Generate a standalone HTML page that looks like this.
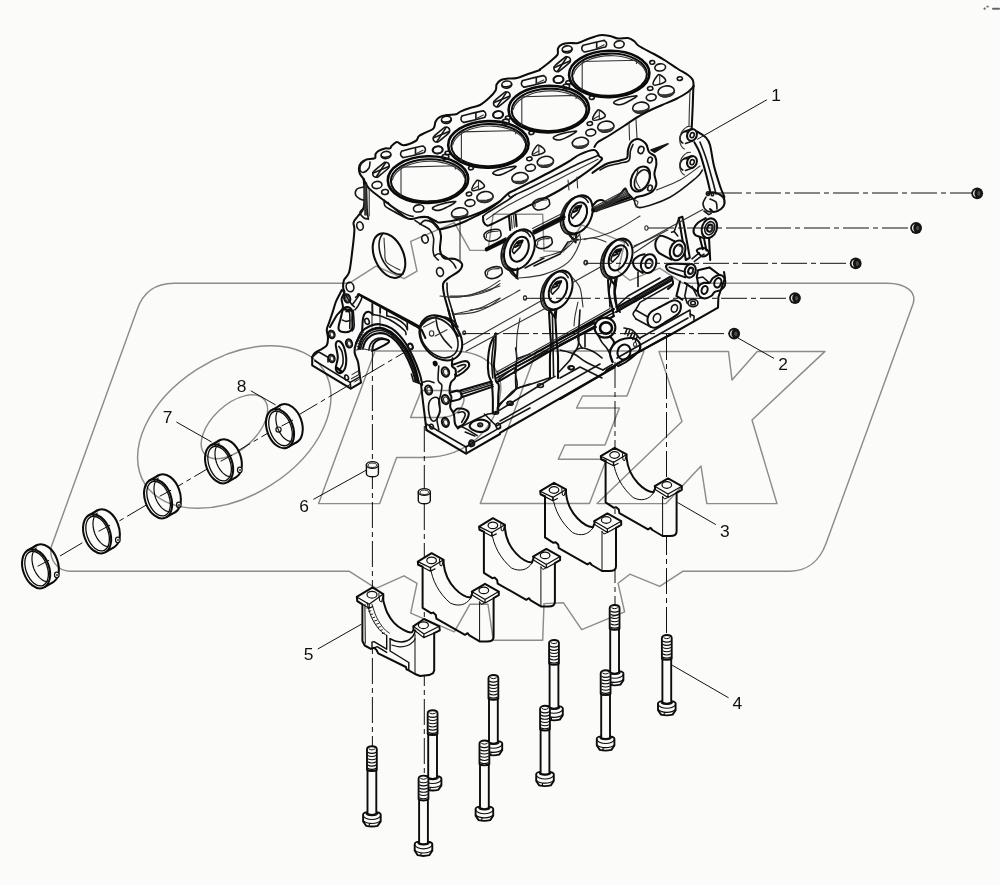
<!DOCTYPE html>
<html><head><meta charset="utf-8"><title>Cylinder block</title>
<style>html,body{margin:0;padding:0;background:#fbfcfa;}svg{display:block}</style></head>
<body>
<svg width="1000" height="885" viewBox="0 0 1000 885">
<rect width="1000" height="885" fill="#fbfcfa"/>
<g id="block" stroke-linecap="round" stroke-linejoin="round">
<ellipse cx="428" cy="179.6" rx="40.2" ry="23.3" fill="none" stroke="#0a0a0a" stroke-width="2.6" transform="rotate(-1.5 428 179.6)"/>
<ellipse cx="428.3" cy="180.3" rx="37.4" ry="21.1" fill="none" stroke="#0d0d0d" stroke-width="2.05" transform="rotate(-1.5 428.3 180.3)"/>
<path d="M392.4 179.9 C392.7 179.2 393.4 176.9 394.3 175.5 C395.2 174.1 396.4 172.7 397.8 171.4 C399.2 170.1 400.9 168.9 402.8 167.8 C404.7 166.7 406.8 165.7 409.1 164.8 C411.3 164 413.8 163.3 416.3 162.7 C418.8 162.2 421.4 161.8 424.1 161.5 C426.7 161.3 429.4 161.2 432.1 161.3 C434.7 161.4 437.4 161.7 439.9 162.1 C442.5 162.5 444.9 163.1 447.2 163.8 C449.5 164.6 451.7 165.4 453.6 166.4 C455.6 167.4 457.3 168.6 458.8 169.8 C460.3 171 461.6 172.3 462.6 173.7 C463.5 175.1 464.3 177.3 464.7 178" fill="none" stroke="#333" stroke-width="1.1"/>
<path d="M401 167.1 L401 196.1" fill="none" stroke="#333" stroke-width="1.1"/>
<path d="M401 167.1 L456 165.8 L455.2 169.1" fill="none" stroke="#333" stroke-width="1.1"/>
<ellipse cx="386" cy="155" rx="5" ry="3.6" fill="none" stroke="#151515" stroke-width="1.6" transform="rotate(-8 386 155)"/>
<path d="M390.6 154.8 C390.6 154.8 390.6 155 390.5 155.2 C390.4 155.3 390.3 155.5 390.2 155.6 C390 155.7 389.9 155.9 389.7 156 C389.5 156.1 389.2 156.3 389 156.4 C388.7 156.5 388.4 156.6 388.2 156.7 C387.9 156.8 387.5 156.9 387.2 157 C386.9 157 386.6 157.1 386.3 157.1 C385.9 157.2 385.6 157.2 385.3 157.2 C385 157.3 384.6 157.3 384.3 157.2 C384 157.2 383.7 157.2 383.4 157.2 C383.2 157.1 382.9 157.1 382.7 157 C382.5 156.9 382.3 156.8 382.1 156.7 C381.9 156.6 381.8 156.5 381.7 156.4 C381.5 156.3 381.5 156.1 381.4 156.1" fill="none" stroke="#151515" stroke-width="1.6"/>
<path d="M383.6 163.1 C385.4 161.7 384.6 162.5 385.2 162.4 C385.8 162.3 386.5 162.3 387 162.5 C387.6 162.7 388.1 163.1 388.5 163.6 C388.9 164 389.1 164.6 389.2 165.2 C389.3 165.8 389.3 166.5 389.1 167 C388.9 167.6 389.8 166.9 388 168.5 C386.3 170.1 380.3 175 378.4 176.5 C376.6 177.9 377.4 177.1 376.8 177.2 C376.2 177.3 375.5 177.3 375 177.1 C374.4 176.9 373.9 176.5 373.5 176 C373.1 175.6 372.9 175 372.8 174.4 C372.7 173.8 372.7 173.1 372.9 172.6 C373.1 172 372.2 172.7 374 171.1 C375.7 169.5 381.7 164.6 383.6 163.1Z" fill="none" stroke="#151515" stroke-width="1.6"/>
<path d="M376.4 176.8 L385.6 162.8" fill="none" stroke="#151515" stroke-width="1.6"/>
<path d="M373.3 173 L388.7 166.6" fill="none" stroke="#151515" stroke-width="1.6"/>
<ellipse cx="377" cy="185" rx="5" ry="3.6" fill="none" stroke="#151515" stroke-width="1.6" transform="rotate(-8 377 185)"/>
<ellipse cx="385" cy="192" rx="3.4" ry="2.5" fill="none" stroke="#151515" stroke-width="1.6" transform="rotate(-8 385 192)"/>
<path d="M421.2 146.3 C424.5 145.6 422.4 146.2 423 146.3 C423.5 146.5 424.1 146.8 424.5 147.2 C424.8 147.7 425.2 148.2 425.3 148.8 C425.4 149.3 425.4 150 425.3 150.6 C425.1 151.1 424.8 151.7 424.4 152.1 C423.9 152.4 426.1 152 422.8 152.9 C419.6 153.8 408.1 156.6 404.8 157.3 C401.5 158 403.6 157.4 403 157.3 C402.5 157.1 401.9 156.8 401.5 156.4 C401.2 155.9 400.8 155.4 400.7 154.8 C400.6 154.3 400.6 153.6 400.7 153 C400.9 152.5 401.2 151.9 401.6 151.5 C402.1 151.2 399.9 151.6 403.2 150.7 C406.4 149.8 417.9 147 421.2 146.3Z" fill="none" stroke="#151515" stroke-width="1.6"/>
<path d="M415.5 148.1 L415.5 154.4" fill="none" stroke="#151515" stroke-width="1.6"/>
<path d="M415.5 154 L423 150.3" fill="none" stroke="#333" stroke-width="1.1"/>
<ellipse cx="438" cy="150" rx="5" ry="3.6" fill="none" stroke="#151515" stroke-width="1.6" transform="rotate(-8 438 150)"/>
<ellipse cx="447.5" cy="153" rx="2.5" ry="1.8" fill="none" stroke="#151515" stroke-width="1.6" transform="rotate(-8 447.5 153)"/>
<ellipse cx="471" cy="168" rx="2.5" ry="1.8" fill="none" stroke="#151515" stroke-width="1.6" transform="rotate(-8 471 168)"/>
<path d="M433 207.4 C434.3 206.1 435.2 205.8 440 204.4 C444.8 203 450.1 202 453.5 201.6 C456.9 201.2 455.8 201.6 454.5 202.8 C453.2 204 451.4 204.9 448 206.6 C444.6 208.3 443.1 209.4 440 210.1 C436.9 210.8 436.1 210.4 434.5 209.8 C432.9 209.2 431.7 208.7 433 207.4Z" fill="none" stroke="#151515" stroke-width="1.6"/>
<path d="M472 190.1 C471.3 188.6 474.1 184 475.5 182.1 C476.9 180.2 477.2 179.8 479 180.6 C480.8 181.4 484.5 184.3 484.5 186.1 C484.5 187.9 481.5 188.8 479 189.6 C476.5 190.4 472.7 191.6 472 190.1Z" fill="none" stroke="#151515" stroke-width="1.6"/>
<path d="M478.5 181.1 L478.5 189.1" fill="none" stroke="#333" stroke-width="1.1"/>
<path d="M473 189.1 L478.5 186.1" fill="none" stroke="#333" stroke-width="1.1"/>
<ellipse cx="469" cy="194" rx="2.7" ry="1.9" fill="none" stroke="#151515" stroke-width="1.6" transform="rotate(-8 469 194)"/>
<ellipse cx="485" cy="197" rx="8.2" ry="5.4" fill="none" stroke="#151515" stroke-width="1.6" transform="rotate(-8 485 197)"/>
<path d="M493.1 196.6 L493 197.5 L492.6 198.3 L492.1 199.2 L491.3 199.9 L490.4 200.6 L489.4 201.2 L488.3 201.7 L487 202.1 L485.8 202.3 L484.5 202.5 L483.2 202.4 L481.9 202.3 L480.8 202 L479.7 201.6 L478.8 201 L478 200.4 L477.5 199.7 L477.1 198.9 L477.4 199 L477.7 199.4 L478.2 199.7 L478.9 200 L479.8 200.2 L480.7 200.3 L481.8 200.4 L483 200.4 L484.2 200.3 L485.5 200.2 L486.7 200 L487.9 199.7 L489 199.4 L490 199 L490.9 198.6 L491.7 198.2 L492.2 197.7 L492.6 197.3 L492.8 196.8Z" fill="#3a3a3a" stroke="#333" stroke-width="1.1"/>
<ellipse cx="470" cy="203" rx="5" ry="3.4" fill="none" stroke="#151515" stroke-width="1.6" transform="rotate(-8 470 203)"/>
<ellipse cx="459.6" cy="213.2" rx="8.2" ry="5.4" fill="none" stroke="#151515" stroke-width="1.6" transform="rotate(-8 459.6 213.2)"/>
<path d="M467.7 212.8 L467.6 213.7 L467.2 214.5 L466.7 215.4 L465.9 216.1 L465 216.8 L464 217.4 L462.9 217.9 L461.6 218.3 L460.4 218.5 L459.1 218.7 L457.8 218.6 L456.5 218.5 L455.4 218.2 L454.3 217.8 L453.4 217.2 L452.6 216.6 L452.1 215.9 L451.7 215.1 L452 215.2 L452.3 215.6 L452.8 215.9 L453.5 216.2 L454.4 216.4 L455.3 216.5 L456.4 216.6 L457.6 216.6 L458.8 216.5 L460.1 216.4 L461.3 216.2 L462.5 215.9 L463.6 215.6 L464.6 215.2 L465.5 214.8 L466.3 214.4 L466.8 213.9 L467.2 213.5 L467.4 213Z" fill="#3a3a3a" stroke="#333" stroke-width="1.1"/>
<ellipse cx="488.4" cy="144.4" rx="40.2" ry="23.3" fill="none" stroke="#0a0a0a" stroke-width="2.6" transform="rotate(-1.5 488.4 144.4)"/>
<ellipse cx="488.7" cy="145.1" rx="37.4" ry="21.1" fill="none" stroke="#0d0d0d" stroke-width="2.05" transform="rotate(-1.5 488.7 145.1)"/>
<path d="M452.8 144.7 C453.1 144 453.8 141.7 454.7 140.3 C455.6 138.9 456.8 137.5 458.2 136.2 C459.6 134.9 461.3 133.7 463.2 132.6 C465.1 131.5 467.2 130.5 469.5 129.6 C471.7 128.8 474.2 128.1 476.7 127.5 C479.2 127 481.8 126.6 484.5 126.3 C487.1 126.1 489.8 126 492.5 126.1 C495.1 126.2 497.8 126.5 500.3 126.9 C502.9 127.3 505.3 127.9 507.6 128.6 C509.9 129.4 512.1 130.2 514 131.2 C516 132.2 517.7 133.4 519.2 134.6 C520.7 135.8 522 137.1 523 138.5 C523.9 139.9 524.7 142.1 525.1 142.8" fill="none" stroke="#333" stroke-width="1.1"/>
<path d="M461.4 131.9 L461.4 160.9" fill="none" stroke="#333" stroke-width="1.1"/>
<path d="M461.4 131.9 L516.4 130.6 L515.6 133.9" fill="none" stroke="#333" stroke-width="1.1"/>
<ellipse cx="446.4" cy="119.8" rx="5" ry="3.6" fill="none" stroke="#151515" stroke-width="1.6" transform="rotate(-8 446.4 119.8)"/>
<path d="M451 119.6 C451 119.6 451 119.8 450.9 120 C450.8 120.1 450.7 120.3 450.6 120.4 C450.4 120.5 450.3 120.7 450.1 120.8 C449.9 120.9 449.6 121.1 449.4 121.2 C449.1 121.3 448.8 121.4 448.6 121.5 C448.3 121.6 447.9 121.7 447.6 121.8 C447.3 121.8 447 121.9 446.7 121.9 C446.3 122 446 122 445.7 122 C445.4 122.1 445 122.1 444.7 122 C444.4 122 444.1 122 443.8 122 C443.6 121.9 443.3 121.9 443.1 121.8 C442.9 121.7 442.7 121.6 442.5 121.5 C442.3 121.4 442.2 121.3 442.1 121.2 C441.9 121.1 441.9 120.9 441.8 120.9" fill="none" stroke="#151515" stroke-width="1.6"/>
<path d="M444 127.9 C445.8 126.5 445 127.3 445.6 127.2 C446.2 127.1 446.9 127.1 447.4 127.3 C448 127.5 448.5 127.9 448.9 128.4 C449.3 128.8 449.5 129.4 449.6 130 C449.7 130.6 449.7 131.3 449.5 131.8 C449.3 132.4 450.2 131.7 448.4 133.3 C446.7 134.9 440.7 139.8 438.8 141.3 C437 142.7 437.8 141.9 437.2 142 C436.6 142.1 435.9 142.1 435.4 141.9 C434.8 141.7 434.3 141.3 433.9 140.8 C433.5 140.4 433.3 139.8 433.2 139.2 C433.1 138.6 433.1 137.9 433.3 137.4 C433.5 136.8 432.6 137.5 434.4 135.9 C436.1 134.3 442.1 129.4 444 127.9Z" fill="none" stroke="#151515" stroke-width="1.6"/>
<path d="M436.8 141.6 L446 127.6" fill="none" stroke="#151515" stroke-width="1.6"/>
<path d="M433.7 137.8 L449.1 131.4" fill="none" stroke="#151515" stroke-width="1.6"/>
<ellipse cx="437.4" cy="149.8" rx="5" ry="3.6" fill="none" stroke="#151515" stroke-width="1.6" transform="rotate(-8 437.4 149.8)"/>
<ellipse cx="445.4" cy="156.8" rx="3.4" ry="2.5" fill="none" stroke="#151515" stroke-width="1.6" transform="rotate(-8 445.4 156.8)"/>
<path d="M481.6 111.1 C484.9 110.4 482.8 111 483.4 111.1 C483.9 111.3 484.5 111.6 484.9 112 C485.2 112.5 485.6 113 485.7 113.6 C485.8 114.1 485.8 114.8 485.7 115.4 C485.5 115.9 485.2 116.5 484.8 116.9 C484.3 117.2 486.5 116.8 483.2 117.7 C480 118.6 468.5 121.4 465.2 122.1 C461.9 122.8 464 122.2 463.4 122.1 C462.9 121.9 462.3 121.6 461.9 121.2 C461.6 120.7 461.2 120.2 461.1 119.6 C461 119.1 461 118.4 461.1 117.8 C461.3 117.3 461.6 116.7 462 116.3 C462.5 116 460.3 116.4 463.6 115.5 C466.8 114.6 478.3 111.8 481.6 111.1Z" fill="none" stroke="#151515" stroke-width="1.6"/>
<path d="M475.9 112.9 L475.9 119.2" fill="none" stroke="#151515" stroke-width="1.6"/>
<path d="M475.9 118.8 L483.4 115.1" fill="none" stroke="#333" stroke-width="1.1"/>
<ellipse cx="498.4" cy="114.8" rx="5" ry="3.6" fill="none" stroke="#151515" stroke-width="1.6" transform="rotate(-8 498.4 114.8)"/>
<ellipse cx="507.9" cy="117.8" rx="2.5" ry="1.8" fill="none" stroke="#151515" stroke-width="1.6" transform="rotate(-8 507.9 117.8)"/>
<ellipse cx="531.4" cy="132.8" rx="2.5" ry="1.8" fill="none" stroke="#151515" stroke-width="1.6" transform="rotate(-8 531.4 132.8)"/>
<path d="M493.4 172.2 C494.7 170.9 495.6 170.6 500.4 169.2 C505.2 167.8 510.5 166.8 513.9 166.4 C517.3 166 516.2 166.4 514.9 167.6 C513.6 168.8 511.8 169.7 508.4 171.4 C505 173.1 503.5 174.2 500.4 174.9 C497.2 175.6 496.5 175.2 494.9 174.6 C493.3 174 492.1 173.5 493.4 172.2Z" fill="none" stroke="#151515" stroke-width="1.6"/>
<path d="M532.4 154.9 C531.7 153.4 534.5 148.8 535.9 146.9 C537.3 145 537.6 144.6 539.4 145.4 C541.2 146.2 544.9 149.1 544.9 150.9 C544.9 152.7 541.9 153.6 539.4 154.4 C536.9 155.2 533.1 156.4 532.4 154.9Z" fill="none" stroke="#151515" stroke-width="1.6"/>
<path d="M538.9 145.9 L538.9 153.9" fill="none" stroke="#333" stroke-width="1.1"/>
<path d="M533.4 153.9 L538.9 150.9" fill="none" stroke="#333" stroke-width="1.1"/>
<ellipse cx="529.4" cy="158.8" rx="2.7" ry="1.9" fill="none" stroke="#151515" stroke-width="1.6" transform="rotate(-8 529.4 158.8)"/>
<ellipse cx="545.4" cy="161.8" rx="8.2" ry="5.4" fill="none" stroke="#151515" stroke-width="1.6" transform="rotate(-8 545.4 161.8)"/>
<path d="M553.5 161.4 L553.4 162.3 L553 163.1 L552.5 164 L551.7 164.7 L550.8 165.4 L549.8 166 L548.7 166.5 L547.4 166.9 L546.2 167.1 L544.9 167.3 L543.6 167.2 L542.3 167.1 L541.2 166.8 L540.1 166.4 L539.2 165.8 L538.4 165.2 L537.9 164.5 L537.5 163.7 L537.8 163.8 L538.1 164.2 L538.6 164.5 L539.3 164.8 L540.2 165 L541.1 165.1 L542.2 165.2 L543.4 165.2 L544.6 165.1 L545.9 165 L547.1 164.8 L548.3 164.5 L549.4 164.2 L550.4 163.8 L551.3 163.4 L552.1 163 L552.6 162.5 L553 162.1 L553.2 161.6Z" fill="#3a3a3a" stroke="#333" stroke-width="1.1"/>
<ellipse cx="530.4" cy="167.8" rx="5" ry="3.4" fill="none" stroke="#151515" stroke-width="1.6" transform="rotate(-8 530.4 167.8)"/>
<ellipse cx="520" cy="178" rx="8.2" ry="5.4" fill="none" stroke="#151515" stroke-width="1.6" transform="rotate(-8 520 178)"/>
<path d="M528.1 177.6 L528 178.5 L527.6 179.3 L527.1 180.2 L526.3 180.9 L525.4 181.6 L524.4 182.2 L523.3 182.7 L522 183.1 L520.8 183.3 L519.5 183.5 L518.2 183.4 L516.9 183.3 L515.8 183 L514.7 182.6 L513.8 182 L513 181.4 L512.5 180.7 L512.1 179.9 L512.4 180 L512.7 180.4 L513.2 180.7 L513.9 181 L514.8 181.2 L515.7 181.3 L516.8 181.4 L518 181.4 L519.2 181.3 L520.5 181.2 L521.7 181 L522.9 180.7 L524 180.4 L525 180 L525.9 179.6 L526.7 179.2 L527.2 178.7 L527.6 178.3 L527.8 177.8Z" fill="#3a3a3a" stroke="#333" stroke-width="1.1"/>
<ellipse cx="548.8" cy="109.2" rx="40.2" ry="23.3" fill="none" stroke="#0a0a0a" stroke-width="2.6" transform="rotate(-1.5 548.8 109.2)"/>
<ellipse cx="549.1" cy="109.9" rx="37.4" ry="21.1" fill="none" stroke="#0d0d0d" stroke-width="2.05" transform="rotate(-1.5 549.1 109.9)"/>
<path d="M513.2 109.5 C513.5 108.8 514.2 106.5 515.1 105.1 C516 103.7 517.2 102.3 518.6 101 C520 99.7 521.7 98.5 523.6 97.4 C525.5 96.3 527.6 95.3 529.9 94.4 C532.1 93.6 534.6 92.9 537.1 92.3 C539.6 91.8 542.2 91.4 544.9 91.1 C547.5 90.9 550.2 90.8 552.9 90.9 C555.5 91 558.2 91.3 560.7 91.7 C563.3 92.1 565.7 92.7 568 93.4 C570.3 94.2 572.5 95 574.4 96 C576.4 97 578.1 98.2 579.6 99.4 C581.1 100.6 582.4 101.9 583.4 103.3 C584.3 104.7 585.1 106.9 585.5 107.6" fill="none" stroke="#333" stroke-width="1.1"/>
<path d="M521.8 96.7 L521.8 125.7" fill="none" stroke="#333" stroke-width="1.1"/>
<path d="M521.8 96.7 L576.8 95.4 L576 98.7" fill="none" stroke="#333" stroke-width="1.1"/>
<ellipse cx="506.8" cy="84.6" rx="5" ry="3.6" fill="none" stroke="#151515" stroke-width="1.6" transform="rotate(-8 506.8 84.6)"/>
<path d="M511.4 84.4 C511.4 84.4 511.4 84.6 511.3 84.8 C511.2 84.9 511.1 85.1 511 85.2 C510.8 85.3 510.7 85.5 510.5 85.6 C510.3 85.7 510 85.9 509.8 86 C509.5 86.1 509.2 86.2 509 86.3 C508.7 86.4 508.3 86.5 508 86.6 C507.7 86.6 507.4 86.7 507.1 86.7 C506.7 86.8 506.4 86.8 506.1 86.8 C505.8 86.9 505.4 86.9 505.1 86.8 C504.8 86.8 504.5 86.8 504.2 86.8 C504 86.7 503.7 86.7 503.5 86.6 C503.3 86.5 503.1 86.4 502.9 86.3 C502.7 86.2 502.6 86.1 502.5 86 C502.3 85.9 502.3 85.7 502.2 85.7" fill="none" stroke="#151515" stroke-width="1.6"/>
<path d="M504.4 92.7 C506.2 91.3 505.4 92.1 506 92 C506.6 91.9 507.3 91.9 507.8 92.1 C508.4 92.3 508.9 92.7 509.3 93.2 C509.7 93.6 509.9 94.2 510 94.8 C510.1 95.4 510.1 96.1 509.9 96.6 C509.7 97.2 510.6 96.5 508.8 98.1 C507.1 99.7 501.1 104.6 499.2 106.1 C497.4 107.5 498.2 106.7 497.6 106.8 C497 106.9 496.3 106.9 495.8 106.7 C495.2 106.5 494.7 106.1 494.3 105.6 C493.9 105.2 493.7 104.6 493.6 104 C493.5 103.4 493.5 102.7 493.7 102.2 C493.9 101.6 493 102.3 494.8 100.7 C496.5 99.1 502.5 94.2 504.4 92.7Z" fill="none" stroke="#151515" stroke-width="1.6"/>
<path d="M497.2 106.4 L506.4 92.4" fill="none" stroke="#151515" stroke-width="1.6"/>
<path d="M494.1 102.6 L509.5 96.2" fill="none" stroke="#151515" stroke-width="1.6"/>
<ellipse cx="497.8" cy="114.6" rx="5" ry="3.6" fill="none" stroke="#151515" stroke-width="1.6" transform="rotate(-8 497.8 114.6)"/>
<ellipse cx="505.8" cy="121.6" rx="3.4" ry="2.5" fill="none" stroke="#151515" stroke-width="1.6" transform="rotate(-8 505.8 121.6)"/>
<path d="M542 75.9 C545.3 75.2 543.2 75.8 543.8 75.9 C544.3 76.1 544.9 76.4 545.3 76.8 C545.6 77.3 546 77.8 546.1 78.4 C546.2 78.9 546.2 79.6 546.1 80.2 C545.9 80.7 545.6 81.3 545.2 81.7 C544.7 82 546.9 81.6 543.6 82.5 C540.4 83.4 528.9 86.2 525.6 86.9 C522.3 87.6 524.4 87 523.8 86.9 C523.3 86.7 522.7 86.4 522.3 86 C522 85.5 521.6 85 521.5 84.4 C521.4 83.9 521.4 83.2 521.5 82.6 C521.7 82.1 522 81.5 522.4 81.1 C522.9 80.8 520.7 81.2 524 80.3 C527.2 79.4 538.7 76.6 542 75.9Z" fill="none" stroke="#151515" stroke-width="1.6"/>
<path d="M536.3 77.7 L536.3 84" fill="none" stroke="#151515" stroke-width="1.6"/>
<path d="M536.3 83.6 L543.8 79.9" fill="none" stroke="#333" stroke-width="1.1"/>
<ellipse cx="558.8" cy="79.6" rx="5" ry="3.6" fill="none" stroke="#151515" stroke-width="1.6" transform="rotate(-8 558.8 79.6)"/>
<ellipse cx="568.3" cy="82.6" rx="2.5" ry="1.8" fill="none" stroke="#151515" stroke-width="1.6" transform="rotate(-8 568.3 82.6)"/>
<ellipse cx="591.8" cy="97.6" rx="2.5" ry="1.8" fill="none" stroke="#151515" stroke-width="1.6" transform="rotate(-8 591.8 97.6)"/>
<path d="M553.8 137 C555.1 135.7 556 135.4 560.8 134 C565.6 132.6 570.9 131.6 574.3 131.2 C577.7 130.8 576.6 131.2 575.3 132.4 C574 133.6 572.2 134.5 568.8 136.2 C565.4 137.9 563.9 139 560.8 139.7 C557.6 140.4 556.9 140 555.3 139.4 C553.7 138.8 552.5 138.3 553.8 137Z" fill="none" stroke="#151515" stroke-width="1.6"/>
<path d="M592.8 119.7 C592.1 118.2 594.9 113.6 596.3 111.7 C597.7 109.8 598 109.4 599.8 110.2 C601.6 111 605.3 113.9 605.3 115.7 C605.3 117.5 602.3 118.4 599.8 119.2 C597.3 120 593.5 121.2 592.8 119.7Z" fill="none" stroke="#151515" stroke-width="1.6"/>
<path d="M599.3 110.7 L599.3 118.7" fill="none" stroke="#333" stroke-width="1.1"/>
<path d="M593.8 118.7 L599.3 115.7" fill="none" stroke="#333" stroke-width="1.1"/>
<ellipse cx="589.8" cy="123.6" rx="2.7" ry="1.9" fill="none" stroke="#151515" stroke-width="1.6" transform="rotate(-8 589.8 123.6)"/>
<ellipse cx="605.8" cy="126.6" rx="8.2" ry="5.4" fill="none" stroke="#151515" stroke-width="1.6" transform="rotate(-8 605.8 126.6)"/>
<path d="M613.9 126.2 L613.8 127.1 L613.4 127.9 L612.9 128.8 L612.1 129.5 L611.2 130.2 L610.2 130.8 L609.1 131.3 L607.8 131.7 L606.6 131.9 L605.3 132.1 L604 132 L602.7 131.9 L601.6 131.6 L600.5 131.2 L599.6 130.6 L598.8 130 L598.3 129.3 L597.9 128.5 L598.2 128.6 L598.5 129 L599 129.3 L599.7 129.6 L600.6 129.8 L601.5 129.9 L602.6 130 L603.8 130 L605 129.9 L606.3 129.8 L607.5 129.6 L608.7 129.3 L609.8 129 L610.8 128.6 L611.7 128.2 L612.5 127.8 L613 127.3 L613.4 126.9 L613.6 126.4Z" fill="#3a3a3a" stroke="#333" stroke-width="1.1"/>
<ellipse cx="590.8" cy="132.6" rx="5" ry="3.4" fill="none" stroke="#151515" stroke-width="1.6" transform="rotate(-8 590.8 132.6)"/>
<ellipse cx="580.4" cy="142.8" rx="8.2" ry="5.4" fill="none" stroke="#151515" stroke-width="1.6" transform="rotate(-8 580.4 142.8)"/>
<path d="M588.5 142.4 L588.4 143.3 L588 144.1 L587.5 145 L586.7 145.7 L585.8 146.4 L584.8 147 L583.7 147.5 L582.4 147.9 L581.2 148.1 L579.9 148.3 L578.6 148.2 L577.3 148.1 L576.2 147.8 L575.1 147.4 L574.2 146.8 L573.4 146.2 L572.9 145.5 L572.5 144.7 L572.8 144.8 L573.1 145.2 L573.6 145.5 L574.3 145.8 L575.2 146 L576.1 146.1 L577.2 146.2 L578.4 146.2 L579.6 146.1 L580.9 146 L582.1 145.8 L583.3 145.5 L584.4 145.2 L585.4 144.8 L586.3 144.4 L587.1 144 L587.6 143.5 L588 143.1 L588.2 142.6Z" fill="#3a3a3a" stroke="#333" stroke-width="1.1"/>
<ellipse cx="609.2" cy="74" rx="40.2" ry="23.3" fill="none" stroke="#0a0a0a" stroke-width="2.6" transform="rotate(-1.5 609.2 74)"/>
<ellipse cx="609.5" cy="74.7" rx="37.4" ry="21.1" fill="none" stroke="#0d0d0d" stroke-width="2.05" transform="rotate(-1.5 609.5 74.7)"/>
<path d="M573.6 74.3 C573.9 73.6 574.6 71.3 575.5 69.9 C576.4 68.5 577.6 67.1 579 65.8 C580.4 64.5 582.1 63.3 584 62.2 C585.9 61.1 588 60.1 590.3 59.2 C592.5 58.4 595 57.7 597.5 57.1 C600 56.6 602.6 56.2 605.3 55.9 C607.9 55.7 610.6 55.6 613.3 55.7 C615.9 55.8 618.6 56.1 621.1 56.5 C623.7 56.9 626.1 57.5 628.4 58.2 C630.7 59 632.9 59.8 634.8 60.8 C636.8 61.8 638.5 63 640 64.2 C641.5 65.4 642.8 66.7 643.8 68.1 C644.7 69.5 645.5 71.7 645.9 72.4" fill="none" stroke="#333" stroke-width="1.1"/>
<path d="M582.2 61.5 L582.2 90.5" fill="none" stroke="#333" stroke-width="1.1"/>
<path d="M582.2 61.5 L637.2 60.2 L636.4 63.5" fill="none" stroke="#333" stroke-width="1.1"/>
<ellipse cx="567.2" cy="49.4" rx="5" ry="3.6" fill="none" stroke="#151515" stroke-width="1.6" transform="rotate(-8 567.2 49.4)"/>
<path d="M571.8 49.2 C571.8 49.2 571.8 49.4 571.7 49.6 C571.6 49.7 571.5 49.9 571.4 50 C571.2 50.1 571.1 50.3 570.9 50.4 C570.7 50.5 570.4 50.7 570.2 50.8 C569.9 50.9 569.6 51 569.4 51.1 C569.1 51.2 568.7 51.3 568.4 51.4 C568.1 51.4 567.8 51.5 567.5 51.5 C567.1 51.6 566.8 51.6 566.5 51.6 C566.2 51.7 565.8 51.7 565.5 51.6 C565.2 51.6 564.9 51.6 564.6 51.6 C564.4 51.5 564.1 51.5 563.9 51.4 C563.7 51.3 563.5 51.2 563.3 51.1 C563.1 51 563 50.9 562.9 50.8 C562.7 50.7 562.7 50.5 562.6 50.5" fill="none" stroke="#151515" stroke-width="1.6"/>
<path d="M564.8 57.5 C566.6 56.1 565.8 56.9 566.4 56.8 C567 56.7 567.7 56.7 568.2 56.9 C568.8 57.1 569.3 57.5 569.7 58 C570.1 58.4 570.3 59 570.4 59.6 C570.5 60.2 570.5 60.9 570.3 61.4 C570.1 62 571 61.3 569.2 62.9 C567.5 64.5 561.5 69.4 559.6 70.9 C557.8 72.3 558.6 71.5 558 71.6 C557.4 71.7 556.7 71.7 556.2 71.5 C555.6 71.3 555.1 70.9 554.7 70.4 C554.3 70 554.1 69.4 554 68.8 C553.9 68.2 553.9 67.5 554.1 67 C554.3 66.4 553.4 67.1 555.2 65.5 C556.9 63.9 562.9 59 564.8 57.5Z" fill="none" stroke="#151515" stroke-width="1.6"/>
<path d="M557.6 71.2 L566.8 57.2" fill="none" stroke="#151515" stroke-width="1.6"/>
<path d="M554.5 67.4 L569.9 61" fill="none" stroke="#151515" stroke-width="1.6"/>
<ellipse cx="558.2" cy="79.4" rx="5" ry="3.6" fill="none" stroke="#151515" stroke-width="1.6" transform="rotate(-8 558.2 79.4)"/>
<ellipse cx="566.2" cy="86.4" rx="3.4" ry="2.5" fill="none" stroke="#151515" stroke-width="1.6" transform="rotate(-8 566.2 86.4)"/>
<path d="M602.4 40.7 C605.7 40 603.6 40.6 604.2 40.7 C604.7 40.9 605.3 41.2 605.7 41.6 C606 42.1 606.4 42.6 606.5 43.2 C606.6 43.7 606.6 44.4 606.5 45 C606.3 45.5 606 46.1 605.6 46.5 C605.1 46.8 607.3 46.4 604 47.3 C600.8 48.2 589.3 51 586 51.7 C582.7 52.4 584.8 51.8 584.2 51.7 C583.7 51.5 583.1 51.2 582.7 50.8 C582.4 50.3 582 49.8 581.9 49.2 C581.8 48.7 581.8 48 581.9 47.4 C582.1 46.9 582.4 46.3 582.8 45.9 C583.3 45.6 581.1 46 584.4 45.1 C587.6 44.2 599.1 41.4 602.4 40.7Z" fill="none" stroke="#151515" stroke-width="1.6"/>
<path d="M596.7 42.5 L596.7 48.8" fill="none" stroke="#151515" stroke-width="1.6"/>
<path d="M596.7 48.4 L604.2 44.7" fill="none" stroke="#333" stroke-width="1.1"/>
<ellipse cx="619.2" cy="44.4" rx="5" ry="3.6" fill="none" stroke="#151515" stroke-width="1.6" transform="rotate(-8 619.2 44.4)"/>
<ellipse cx="652.2" cy="62.4" rx="2.5" ry="1.8" fill="none" stroke="#151515" stroke-width="1.6" transform="rotate(-8 652.2 62.4)"/>
<ellipse cx="660.2" cy="67.4" rx="5.4" ry="3.6" fill="none" stroke="#151515" stroke-width="1.6" transform="rotate(-8 660.2 67.4)"/>
<path d="M653.2 84.5 C652.5 83 655.3 78.4 656.7 76.5 C658.1 74.6 658.4 74.2 660.2 75 C662 75.8 665.7 78.7 665.7 80.5 C665.7 82.3 662.7 83.2 660.2 84 C657.7 84.8 653.9 86 653.2 84.5Z" fill="none" stroke="#151515" stroke-width="1.6"/>
<path d="M659.7 75.5 L659.7 83.5" fill="none" stroke="#333" stroke-width="1.1"/>
<ellipse cx="650.2" cy="88.4" rx="2.7" ry="1.9" fill="none" stroke="#151515" stroke-width="1.6" transform="rotate(-8 650.2 88.4)"/>
<ellipse cx="666.2" cy="91.4" rx="8.2" ry="5.4" fill="none" stroke="#151515" stroke-width="1.6" transform="rotate(-8 666.2 91.4)"/>
<path d="M674.3 91 L674.2 91.9 L673.8 92.7 L673.3 93.6 L672.5 94.3 L671.6 95 L670.6 95.6 L669.5 96.1 L668.2 96.5 L667 96.7 L665.7 96.9 L664.4 96.8 L663.1 96.7 L662 96.4 L660.9 96 L660 95.4 L659.2 94.8 L658.7 94.1 L658.3 93.3 L658.6 93.4 L658.9 93.8 L659.4 94.1 L660.1 94.4 L661 94.6 L661.9 94.7 L663 94.8 L664.2 94.8 L665.4 94.7 L666.7 94.6 L667.9 94.4 L669.1 94.1 L670.2 93.8 L671.2 93.4 L672.1 93 L672.9 92.6 L673.4 92.1 L673.8 91.7 L674 91.2Z" fill="#3a3a3a" stroke="#333" stroke-width="1.1"/>
<ellipse cx="651.2" cy="97.4" rx="5" ry="3.4" fill="none" stroke="#151515" stroke-width="1.6" transform="rotate(-8 651.2 97.4)"/>
<ellipse cx="640.8" cy="107.6" rx="8.2" ry="5.4" fill="none" stroke="#151515" stroke-width="1.6" transform="rotate(-8 640.8 107.6)"/>
<path d="M648.9 107.2 L648.8 108.1 L648.4 108.9 L647.9 109.8 L647.1 110.5 L646.2 111.2 L645.2 111.8 L644.1 112.3 L642.8 112.7 L641.6 112.9 L640.3 113.1 L639 113 L637.7 112.9 L636.6 112.6 L635.5 112.2 L634.6 111.6 L633.8 111 L633.3 110.3 L632.9 109.5 L633.2 109.6 L633.5 110 L634 110.3 L634.7 110.6 L635.6 110.8 L636.5 110.9 L637.6 111 L638.8 111 L640 110.9 L641.3 110.8 L642.5 110.6 L643.7 110.3 L644.8 110 L645.8 109.6 L646.7 109.2 L647.5 108.8 L648 108.3 L648.4 107.9 L648.6 107.4Z" fill="#3a3a3a" stroke="#333" stroke-width="1.1"/>
<ellipse cx="679.8" cy="78.6" rx="2.6" ry="1.8" fill="none" stroke="#151515" stroke-width="1.6" transform="rotate(-8 679.8 78.6)"/>
<path d="M614.2 101.8 C615.5 100.5 616.4 100.2 621.2 98.8 C626 97.4 631.3 96.4 634.7 96 C638.1 95.6 637 96 635.7 97.2 C634.4 98.4 632.6 99.3 629.2 101 C625.8 102.7 624.4 103.8 621.2 104.5 C618.1 105.2 617.3 104.8 615.7 104.2 C614.1 103.6 612.9 103.1 614.2 101.8Z" fill="none" stroke="#151515" stroke-width="1.6"/>
<ellipse cx="418.6" cy="208.4" rx="5.2" ry="3.6" fill="none" stroke="#151515" stroke-width="1.6" transform="rotate(-8 418.6 208.4)"/>
<path d="M363.6 179 C363 178.2 360.8 175.8 360 174 C359.2 172.2 358.8 169.8 359 168 C359.2 166.2 359.8 164.4 361 163 C362.2 161.6 364.2 160.3 366 159.6 C367.8 158.9 370.5 159.1 372 158.8 C373.5 158.5 374.6 158.8 375.2 158 C375.8 157.2 375 155.2 375.6 154 C376.2 152.8 377.4 151.5 379 150.6 C380.6 149.7 383.2 148.8 385 148.4 C386.8 148 388.9 148.8 390 148.4 C391.1 148 390.4 147.1 391.6 146 C392.8 144.9 395 142.1 397 142 C399 141.9 400.5 145.4 403.6 145.2 C406.7 145 413 142.5 415.6 141 C418.2 139.5 417.3 137.4 419 136 C420.7 134.6 423.6 133.7 426 132.4 C428.4 131.1 432 130.2 433.6 128.4 C435.2 126.6 434.6 123.5 435.6 121.6 C436.6 119.7 437.7 118.3 439.6 117.2 C441.5 116.1 444.3 115.5 447 115 C449.7 114.5 453.8 114.8 456 114.2 C458.2 113.6 458.1 112.6 460.4 111.6 C462.7 110.6 466.7 109.1 470 108 C473.3 106.9 476.8 106.7 480 105 C483.2 103.3 486.4 100.4 489 98 C491.6 95.6 494.3 92.7 495.6 90.4 C496.9 88.1 495.7 86.1 496.6 84.4 C497.5 82.7 499.1 81 501 80 C502.9 79 505.3 78.9 508 78.6 C510.7 78.3 513.7 78.8 517 78 C520.3 77.2 524.2 75.3 528 74 C531.8 72.7 538 70.7 540 70" fill="none" stroke="#0d0d0d" stroke-width="2.05"/>
<path d="M366 160 C365.2 160.7 362 162.3 361 164 C360 165.7 359.6 168.6 360 170 C360.4 171.4 362.1 172.7 363.6 172.4 C365.1 172.1 367.9 169.7 369 168 C370.1 166.3 369.8 163 370 162" fill="none" stroke="#151515" stroke-width="1.6"/>
<path d="M540 69.2 C540.3 69 540 69.5 542 68 C544 66.5 549.4 62.3 552 60 C554.6 57.7 556.6 56.3 557.6 54.4 C558.6 52.5 557.3 50.1 558 48.4 C558.7 46.7 560 45.3 562 44.4 C564 43.5 567.3 43.2 570 43 C572.7 42.8 575 43.7 578 43 C581 42.3 584.3 40.3 588 39 C591.7 37.7 596.3 35.7 600 35.2 C603.7 34.7 607 35.5 610 36 C613 36.5 615 38.1 618 38.4 C621 38.7 625.3 37.6 628 38 C630.7 38.4 632.2 39.7 634 41 C635.8 42.3 635.7 43.8 639 46 C642.3 48.2 649.5 51.5 654 54 C658.5 56.5 662 58.5 666 61 C670 63.5 674.3 66.7 678 69 C681.7 71.3 685.5 73.2 688 75 C690.5 76.8 691.9 78.1 692.8 80 C693.7 81.9 693.5 85.3 693.6 86.4" fill="none" stroke="#0d0d0d" stroke-width="2.05"/>
<path d="M693.6 86.4 C692.7 87.3 690.9 89.9 688 92 C685.1 94.1 680.3 96.8 676 99 C671.7 101.2 666.7 102.9 662 105 C657.3 107.1 652.3 109.2 648 111.4 C643.7 113.6 640 115.6 636 118 C632 120.4 628.3 123.2 624 126 C619.7 128.8 614.3 132.3 610 135 C605.7 137.7 600.6 140 598 142 C595.4 144 595 146.2 594.4 147" fill="none" stroke="#0d0d0d" stroke-width="2.05"/>
<path d="M693.4 86 C693.3 89 693 98 692.8 104 C692.6 110 692.2 117.6 692 122 C691.8 126.4 691.7 129 691.6 130.4" fill="none" stroke="#0d0d0d" stroke-width="2.05"/>
<path d="M690 90 C689.9 93 689.6 102 689.4 108 C689.2 114 689.1 123 689 126" fill="none" stroke="#333" stroke-width="1.1"/>
<path d="M629 123 L629.6 140" fill="none" stroke="#333" stroke-width="1.1"/>
<path d="M636 119.6 L637 138" fill="none" stroke="#333" stroke-width="1.1"/>
<path d="M363.6 179 C364.5 180.6 365.6 184.8 369 188.4 C372.4 192 379.8 197.1 384 200.4 C388.2 203.7 390.3 205.1 394 208 C397.7 210.9 403 215.8 406 217.6 C409 219.4 409.7 219.1 412 219 C414.3 218.9 417.3 217.5 420 217.2 C422.7 216.9 425.3 216.5 428 217.2 C430.7 217.9 434 220.3 436 221.2 C438 222.1 436 222.7 440 222.4 C444 222.1 453.3 220.9 460 219.2 C466.7 217.5 473.3 215.4 480 212.4 C486.7 209.4 496.7 203.1 500 201.2" fill="none" stroke="#0d0d0d" stroke-width="2.05"/>
<path d="M384 200.4 C384.1 201.3 384 204.2 384.8 205.6 C385.6 207 385.6 206.8 389 208.8 C392.4 210.8 402.3 216.1 405 217.6" fill="none" stroke="#151515" stroke-width="1.6"/>
<path d="M388 202.4 C388.6 203.1 388.6 204.4 391.6 206.4 C394.6 208.4 402.4 212.7 406 214.4 C409.6 216.1 411.8 216.1 413 216.4" fill="none" stroke="#151515" stroke-width="1.6"/>
<path d="M428 217.2 C429.7 218.8 435.8 223.9 438 227 C440.2 230.1 440.7 232.2 441 236 C441.3 239.8 439.5 246.3 440 250 C440.5 253.7 441.5 256.5 444 258 C446.5 259.5 452 258 455 259 C458 260 461.3 262 462 264 C462.7 266 461.2 268.7 459 271 C456.8 273.3 451.6 275.5 449 277.6 C446.4 279.7 444 280.9 443.2 283.6 C442.4 286.3 443.1 289.6 444 294 C444.9 298.4 446.9 304.5 448.4 310 C449.9 315.5 452.2 324.2 453 327" fill="none" stroke="#0d0d0d" stroke-width="2.05"/>
<path d="M415 220.4 C416 221.1 418.5 222.8 421 224.4 C423.5 226 427.9 227.7 430 230 C432.1 232.3 433.1 234.7 433.6 238 C434.1 241.3 432.9 247 433 250 C433.1 253 433.5 254.3 434.4 256 C435.3 257.7 437.7 259.3 438.4 260" fill="none" stroke="#151515" stroke-width="1.6"/>
<path d="M420 224.4 C420.8 223.7 423 220.7 425 220.4 C427 220.1 429.8 221 432 222.4 C434.2 223.8 437 227.9 438 229" fill="none" stroke="#151515" stroke-width="1.6"/>
<path d="M434.4 256 C435.3 255.7 437.1 253 440 254 C442.9 255 449.3 259.7 452 262 C454.7 264.3 455.3 267 456 268" fill="none" stroke="#151515" stroke-width="1.6"/>
<path d="M447 283 C447.1 284.8 446.8 289.5 447.6 294 C448.4 298.5 450.5 304.8 452 310 C453.5 315.2 455.7 322.5 456.4 325" fill="none" stroke="#151515" stroke-width="1.6"/>
<path d="M363.6 179 C363.7 180.8 364.4 185.2 364.4 190 C364.4 194.8 364.7 203.7 363.6 208 C362.5 212.3 359.7 213.6 358 216 C356.3 218.4 354.2 220.1 353.6 222.4 C353 224.7 354.6 225.4 354.4 230 C354.2 234.6 353.3 243 352.4 250 C351.5 257 350.6 267 349.2 272 C347.8 277 345 277.3 344 280 C343 282.7 343.1 285.9 343.2 288 C343.3 290.1 344.7 290.6 344.4 292.4 C344.1 294.2 341.9 296.4 341.6 299 C341.3 301.6 343.6 305.3 342.8 308 C342 310.7 339.1 311.8 337 315 C334.9 318.2 331.2 325 330 327" fill="none" stroke="#0d0d0d" stroke-width="2.05"/>
<path d="M366.4 183 C366.5 187.5 366.9 204 367.2 210 C367.5 216 368.2 217.5 368.4 219" fill="none" stroke="#151515" stroke-width="1.6"/>
<path d="M369.2 189.2 L369.2 216" fill="none" stroke="#333" stroke-width="1.1"/>
<path d="M364.4 185 L364.8 215" fill="none" stroke="#333" stroke-width="1.1"/>
<path d="M365.2 185 L365.6 215" fill="none" stroke="#333" stroke-width="1.1"/>
<path d="M366 185 L366.4 215" fill="none" stroke="#333" stroke-width="1.1"/>
<path d="M363.6 187 C362.5 187.3 358.3 187.7 357 189 C355.7 190.3 355.1 193.3 355.6 195 C356.1 196.7 358.7 198.2 360 199 C361.3 199.8 363 199.8 363.6 200" fill="none" stroke="#151515" stroke-width="1.6"/>
<path d="M363.6 208 C363 208.7 359.9 210.7 360 212.4 C360.1 214.1 362.6 216.9 364 218 C365.4 219.1 367.7 218.8 368.4 219" fill="none" stroke="#151515" stroke-width="1.6"/>
<ellipse cx="360" cy="226" rx="3.2" ry="4.2" fill="none" stroke="#151515" stroke-width="1.6" transform="rotate(-15 360 226)"/>
<ellipse cx="425" cy="239" rx="3.2" ry="4.2" fill="none" stroke="#151515" stroke-width="1.6" transform="rotate(-15 425 239)"/>
<ellipse cx="440" cy="272" rx="3.4" ry="4.4" fill="none" stroke="#151515" stroke-width="1.6" transform="rotate(-15 440 272)"/>
<ellipse cx="350" cy="287" rx="3.8" ry="4.8" fill="none" stroke="#151515" stroke-width="1.6" transform="rotate(-15 350 287)"/>
<ellipse cx="389" cy="255.6" rx="14.4" ry="23.6" fill="none" stroke="#0d0d0d" stroke-width="2.05" transform="rotate(-24 389 255.6)"/>
<path d="M402.9 274 C402.4 274.1 400.9 274.4 399.8 274.4 C398.8 274.3 397.7 274.1 396.5 273.7 C395.4 273.3 394.3 272.8 393.2 272.1 C392 271.4 390.9 270.6 389.8 269.6 C388.8 268.6 387.7 267.5 386.8 266.3 C385.8 265.1 384.9 263.8 384 262.4 C383.2 261 382.5 259.6 381.8 258.1 C381.2 256.6 380.6 255 380.2 253.5 C379.8 252 379.4 250.4 379.3 248.9 C379.1 247.4 379 245.9 379 244.4 C379.1 243 379.2 241.6 379.5 240.4 C379.8 239.1 380.2 237.9 380.7 236.9 C381.2 235.9 382.2 234.6 382.5 234.2" fill="none" stroke="#151515" stroke-width="1.6"/>
<path d="M384 238 C384.1 240 384.4 246 384.8 250 C385.2 254 383.9 258.7 386.4 262 C388.9 265.3 397.7 268.7 400 270" fill="none" stroke="#333" stroke-width="1.1"/>
<path d="M359.2 294.4 L366 298 L412 322.4 L420 327" fill="none" stroke="#0d0d0d" stroke-width="2.05"/>
<path d="M352.4 304.4 C353.2 303.4 355.9 300.1 357 298.4 C358.1 296.7 358.8 295.1 359.2 294.4" fill="none" stroke="#151515" stroke-width="1.6"/>
<path d="M372 304 L372 327" fill="none" stroke="#333" stroke-width="1.1"/>
<path d="M380 308.4 L380 327" fill="none" stroke="#333" stroke-width="1.1"/>
<path d="M450 297 C453.3 296.8 463.7 297 470 296 C476.3 295 483 293.1 488 291 C493 288.9 498 284.8 500 283.6" fill="none" stroke="#333" stroke-width="1.1"/>
<path d="M454 314.4 C457.3 314.1 468 313.8 474 312.4 C480 311 485.7 308.3 490 306 C494.3 303.7 498.3 299.7 500 298.4" fill="none" stroke="#333" stroke-width="1.1"/>
<path d="M460 219.2 L460 262" fill="none" stroke="#333" stroke-width="1.1"/>
<path d="M420 327 C421.3 325.8 424.7 321.8 428 320 C431.3 318.2 436 316.4 440 316.4 C444 316.4 449 318.2 452 320 C455 321.8 457 325.8 458 327" fill="none" stroke="#151515" stroke-width="1.6"/>
<path d="M440 229.4 C442 228.9 447.7 227.8 452 226.4 C456.3 225 461.3 223.1 466 221 C470.7 218.9 476.3 215.8 480 214 C483.7 212.2 484.7 212.1 488 210 C491.3 207.9 496.7 203.9 500 201.2 C503.3 198.5 505.5 195.5 508 193.6 C510.5 191.7 511.3 191.9 515 190 C518.7 188.1 523.8 185.6 530 182.4 C536.2 179.2 545.7 174.4 552 171 C558.3 167.6 563.3 164.8 568 162 C572.7 159.2 575.7 156.4 580 154.4 C584.3 152.4 590.8 149.7 594 150 C597.2 150.3 598.2 153.9 599 156 C599.8 158.1 605.5 156.7 599 162.4 C592.5 168.1 573.2 182.1 560 190 C546.8 197.9 531.3 204.3 520 210 C508.7 215.7 497.5 221.4 492 224 C486.5 226.6 488.4 225.9 487 225.6 C485.6 225.3 484.3 223.5 483.6 222 C482.9 220.5 483.1 217.3 483 216.4" fill="none" stroke="#0d0d0d" stroke-width="2.05"/>
<path d="M483 216.4 C483.8 215.7 483.8 215.1 488 212.4 C492.2 209.7 503.3 203 508 200 C512.7 197 512 196.6 516 194.4 C520 192.2 524.7 190.6 532 187 C539.3 183.4 552 177 560 173 C568 169 573.7 165.9 580 163 C586.3 160.1 595 156.8 598 155.6" fill="none" stroke="#151515" stroke-width="1.6"/>
<path d="M486.4 219.6 C490.2 217.1 496.7 211.7 509 204.8 C521.3 197.9 545.2 186 560 178.4 C574.8 170.8 591.7 162.4 598 159.2" fill="none" stroke="#333" stroke-width="1.1"/>
<path d="M508 193.6 C508.4 194.2 509.1 197.1 510.4 197.2 C511.7 197.3 515.1 194.9 516 194.4" fill="none" stroke="#151515" stroke-width="1.6"/>
<path d="M533 206 C532.3 204 531.8 203.9 533.4 202 C535 200.1 535.4 199.8 539 198.8 C542.6 197.8 544.2 197.5 547 198.4 C549.8 199.3 549 200 549.4 202 C549.8 204 550.6 204 548.6 206 C546.6 208 545.4 208.7 542 209.6 C538.6 210.5 538.4 210.4 536 209.4 C533.6 208.4 533.7 208 533 206Z" fill="none" stroke="#151515" stroke-width="1.6"/>
<path d="M535 206.4 C535.1 205.8 534.6 203.8 535.4 202.8 C536.2 201.8 538.1 200.9 540 200.4 C541.9 199.9 545.5 200.1 546.6 200" fill="none" stroke="#333" stroke-width="1.1"/>
<path d="M484.4 237.2 C483.7 235.2 483.2 235.1 484.8 233.2 C486.4 231.3 486.8 231 490.4 230 C494 229 495.6 228.7 498.4 229.6 C501.2 230.5 500.4 231.2 500.8 233.2 C501.2 235.2 502 235.2 500 237.2 C498 239.2 496.8 239.9 493.4 240.8 C490 241.7 489.8 241.6 487.4 240.6 C485 239.6 485.1 239.2 484.4 237.2Z" fill="none" stroke="#151515" stroke-width="1.6"/>
<path d="M486.4 237.6 C486.5 237 486 235 486.8 234 C487.6 233 489.5 232.1 491.4 231.6 C493.3 231.1 496.9 231.3 498 231.2" fill="none" stroke="#333" stroke-width="1.1"/>
<path d="M535.6 244.6 C534.9 242.6 534.4 242.5 536 240.6 C537.6 238.7 538 238.4 541.6 237.4 C545.2 236.4 546.8 236.1 549.6 237 C552.4 237.9 551.6 238.6 552 240.6 C552.4 242.6 553.2 242.6 551.2 244.6 C549.2 246.6 548 247.3 544.6 248.2 C541.2 249.1 541 249 538.6 248 C536.2 247 536.3 246.6 535.6 244.6Z" fill="none" stroke="#151515" stroke-width="1.6"/>
<path d="M537.6 245 C537.7 244.4 537.2 242.4 538 241.4 C538.8 240.4 540.7 239.5 542.6 239 C544.5 238.5 548.1 238.7 549.2 238.6" fill="none" stroke="#333" stroke-width="1.1"/>
<path d="M485.6 274.6 C484.9 272.6 484.4 272.5 486 270.6 C487.6 268.7 488 268.4 491.6 267.4 C495.2 266.4 496.8 266.1 499.6 267 C502.4 267.9 501.6 268.6 502 270.6 C502.4 272.6 503.2 272.6 501.2 274.6 C499.2 276.6 498 277.3 494.6 278.2 C491.2 279.1 491 279 488.6 278 C486.2 277 486.3 276.6 485.6 274.6Z" fill="none" stroke="#151515" stroke-width="1.6"/>
<path d="M487.6 275 C487.7 274.4 487.2 272.4 488 271.4 C488.8 270.4 490.7 269.5 492.6 269 C494.5 268.5 498.1 268.7 499.2 268.6" fill="none" stroke="#333" stroke-width="1.1"/>
<path d="M516 270.2 C515.5 270.3 513.9 270.7 512.8 270.8 C511.8 270.8 510.8 270.7 509.8 270.5 C508.8 270.2 507.9 269.8 507.1 269.3 C506.2 268.8 505.4 268.1 504.8 267.3 C504.1 266.6 503.5 265.6 503 264.6 C502.5 263.6 502 262.5 501.8 261.3 C501.5 260.1 501.3 258.8 501.2 257.5 C501.1 256.2 501.2 254.8 501.3 253.5 C501.5 252.1 501.7 250.6 502.1 249.3 C502.5 247.9 503 246.5 503.5 245.1 C504.1 243.8 504.8 242.4 505.5 241.2 C506.3 240 507.1 238.8 508 237.7 C508.9 236.7 509.9 235.7 510.8 234.8 C511.8 234 512.9 233.2 514 232.6 C515 232 516.1 231.5 517.2 231.1 C518.2 230.8 519.3 230.6 520.4 230.6 C521.4 230.5 522.4 230.6 523.4 230.9 C524.4 231.1 525.3 231.5 526.1 232 C527 232.5 527.8 233.2 528.4 234 C529.1 234.8 529.9 236.2 530.2 236.7" fill="none" stroke="#151515" stroke-width="1.6"/>
<path d="M512.2 270 C511.7 269.9 510.1 269.5 509.2 269.1 C508.3 268.6 507.4 268 506.7 267.3 C505.9 266.5 505.2 265.6 504.7 264.6 C504.1 263.6 503.7 262.5 503.3 261.3 C503 260.1 502.7 258.7 502.6 257.4 C502.5 256 502.5 254.6 502.7 253.2 C502.8 251.7 503.1 250.2 503.5 248.8 C503.8 247.3 504.3 245.9 504.9 244.5 C505.5 243.1 506.2 241.7 507 240.4 C507.8 239.1 508.7 237.9 509.6 236.8 C510.6 235.7 511.6 234.7 512.6 233.8 C513.7 233 514.8 232.2 515.9 231.6 C517 231.1 518.1 230.6 519.2 230.3 C520.4 230 521.5 229.9 522.5 229.9 C523.6 229.9 524.7 230.1 525.6 230.5 C526.6 230.8 527.9 231.7 528.4 231.9" fill="none" stroke="#333" stroke-width="1.1"/>
<ellipse cx="519.4" cy="249.4" rx="14.2" ry="21" fill="none" stroke="#0d0d0d" stroke-width="2.05" transform="rotate(23 519.4 249.4)"/>
<ellipse cx="519.4" cy="249.2" rx="8.6" ry="13" fill="none" stroke="#0d0d0d" stroke-width="2.05" transform="rotate(23 519.4 249.2)"/>
<path d="M522.8 240.4 C521.8 240.7 518.7 240.3 517 242 C515.3 243.7 512.9 248.5 512.4 250.4 C511.9 252.3 513.7 252.9 514 253.4" fill="none" stroke="#151515" stroke-width="1.6"/>
<path d="M514 253.4 L519.8 247.4 L522.8 240.4" fill="none" stroke="#151515" stroke-width="1.6"/>
<path d="M517.4 243.4 L521.8 241.8" fill="none" stroke="#0a0a0a" stroke-width="2.6"/>
<path d="M515 247 L519 245" fill="none" stroke="#0d0d0d" stroke-width="2.05"/>
<path d="M511.4 270.4 L517 277.4 L517.8 268.4" fill="none" stroke="#0d0d0d" stroke-width="2.05"/>
<path d="M574.7 234.3 C574.2 234.4 572.6 234.8 571.6 234.8 C570.6 234.9 569.7 234.8 568.7 234.5 C567.8 234.3 566.9 233.9 566.1 233.4 C565.3 232.9 564.6 232.3 563.9 231.5 C563.2 230.8 562.7 229.9 562.2 228.9 C561.7 228 561.3 226.9 561 225.8 C560.7 224.7 560.6 223.4 560.5 222.2 C560.4 220.9 560.4 219.6 560.6 218.3 C560.7 217 561 215.6 561.3 214.3 C561.7 213 562.1 211.6 562.7 210.3 C563.2 209.1 563.9 207.8 564.6 206.6 C565.3 205.5 566.1 204.3 566.9 203.3 C567.8 202.3 568.7 201.4 569.7 200.5 C570.6 199.7 571.6 199 572.6 198.4 C573.6 197.8 574.7 197.4 575.7 197.1 C576.7 196.7 577.8 196.6 578.8 196.5 C579.8 196.5 580.7 196.6 581.7 196.8 C582.6 197 583.5 197.4 584.3 197.9 C585.1 198.4 585.8 199 586.5 199.8 C587.2 200.5 587.9 201.9 588.2 202.4" fill="none" stroke="#151515" stroke-width="1.6"/>
<path d="M571.1 234.1 C570.6 233.9 569.1 233.6 568.2 233.2 C567.4 232.7 566.5 232.1 565.8 231.4 C565.1 230.7 564.4 229.8 563.9 228.9 C563.3 227.9 562.9 226.9 562.6 225.7 C562.2 224.6 562 223.3 561.9 222 C561.8 220.7 561.8 219.3 562 218 C562.1 216.6 562.3 215.2 562.7 213.8 C563 212.4 563.5 211 564.1 209.7 C564.6 208.4 565.3 207.1 566.1 205.8 C566.8 204.6 567.7 203.5 568.6 202.4 C569.4 201.4 570.4 200.4 571.4 199.6 C572.4 198.8 573.5 198.1 574.5 197.5 C575.6 196.9 576.7 196.5 577.8 196.2 C578.8 196 579.9 195.8 580.9 195.9 C581.9 195.9 582.9 196.1 583.9 196.4 C584.8 196.7 586 197.6 586.5 197.8" fill="none" stroke="#333" stroke-width="1.1"/>
<ellipse cx="578" cy="214.4" rx="13.6" ry="20" fill="none" stroke="#0d0d0d" stroke-width="2.05" transform="rotate(23 578 214.4)"/>
<ellipse cx="578" cy="214.2" rx="8.4" ry="12.4" fill="none" stroke="#0d0d0d" stroke-width="2.05" transform="rotate(23 578 214.2)"/>
<path d="M581.4 205.4 C580.4 205.7 577.3 205.3 575.6 207 C573.9 208.7 571.5 213.5 571 215.4 C570.5 217.3 572.3 217.9 572.6 218.4" fill="none" stroke="#151515" stroke-width="1.6"/>
<path d="M572.6 218.4 L578.4 212.4 L581.4 205.4" fill="none" stroke="#151515" stroke-width="1.6"/>
<path d="M576 208.4 L580.4 206.8" fill="none" stroke="#0a0a0a" stroke-width="2.6"/>
<path d="M573.6 212 L577.6 210" fill="none" stroke="#0d0d0d" stroke-width="2.05"/>
<path d="M570 235.4 L575.6 242.4 L576.4 233.4" fill="none" stroke="#0d0d0d" stroke-width="2.05"/>
<path d="M614.4 278.1 C613.9 278.2 612.3 278.7 611.4 278.7 C610.4 278.8 609.4 278.7 608.5 278.5 C607.6 278.3 606.8 277.9 606 277.4 C605.2 276.9 604.5 276.3 603.9 275.5 C603.2 274.8 602.7 273.9 602.2 272.9 C601.8 272 601.4 270.9 601.1 269.8 C600.9 268.6 600.7 267.4 600.7 266.1 C600.6 264.9 600.7 263.5 600.9 262.2 C601 260.9 601.3 259.5 601.7 258.1 C602 256.8 602.5 255.4 603 254.1 C603.6 252.8 604.3 251.5 605 250.3 C605.7 249.1 606.5 248 607.3 246.9 C608.2 245.9 609.1 244.9 610.1 244 C611 243.2 612 242.5 613 241.9 C614 241.2 615 240.8 616 240.4 C617 240.1 618.1 239.9 619 239.8 C620 239.7 621 239.8 621.9 240 C622.8 240.3 623.6 240.6 624.4 241.1 C625.2 241.6 625.9 242.3 626.5 243 C627.2 243.7 627.9 245.1 628.2 245.6" fill="none" stroke="#151515" stroke-width="1.6"/>
<path d="M610.9 278 C610.4 277.9 609 277.6 608.1 277.2 C607.3 276.7 606.5 276.1 605.8 275.4 C605.1 274.7 604.4 273.8 603.9 272.9 C603.4 271.9 603 270.8 602.7 269.7 C602.4 268.5 602.2 267.3 602.1 266 C602 264.7 602.1 263.3 602.2 261.9 C602.4 260.5 602.6 259 603 257.6 C603.4 256.2 603.9 254.8 604.4 253.5 C605 252.1 605.7 250.8 606.5 249.5 C607.2 248.3 608.1 247.1 609 246 C609.8 244.9 610.8 243.9 611.8 243.1 C612.8 242.2 613.9 241.5 614.9 240.9 C615.9 240.3 617 239.9 618.1 239.6 C619.1 239.3 620.2 239.1 621.2 239.1 C622.2 239.2 623.1 239.3 624 239.6 C624.9 239.9 626.1 240.8 626.6 241" fill="none" stroke="#333" stroke-width="1.1"/>
<ellipse cx="618" cy="258" rx="13.2" ry="20.4" fill="none" stroke="#0d0d0d" stroke-width="2.05" transform="rotate(23 618 258)"/>
<ellipse cx="618" cy="257.8" rx="8.4" ry="13.2" fill="none" stroke="#0d0d0d" stroke-width="2.05" transform="rotate(23 618 257.8)"/>
<path d="M621.4 249 C620.4 249.3 617.3 248.9 615.6 250.6 C613.9 252.3 611.5 257.1 611 259 C610.5 260.9 612.3 261.5 612.6 262" fill="none" stroke="#151515" stroke-width="1.6"/>
<path d="M612.6 262 L618.4 256 L621.4 249" fill="none" stroke="#151515" stroke-width="1.6"/>
<path d="M616 252 L620.4 250.4" fill="none" stroke="#0a0a0a" stroke-width="2.6"/>
<path d="M613.6 255.6 L617.6 253.6" fill="none" stroke="#0d0d0d" stroke-width="2.05"/>
<path d="M610 279 L615.6 286 L616.4 277" fill="none" stroke="#0d0d0d" stroke-width="2.05"/>
<path d="M554.4 310.1 C553.9 310.2 552.3 310.7 551.4 310.7 C550.4 310.8 549.4 310.7 548.5 310.5 C547.6 310.3 546.8 309.9 546 309.4 C545.2 308.9 544.5 308.3 543.9 307.5 C543.2 306.8 542.7 305.9 542.2 304.9 C541.8 304 541.4 302.9 541.1 301.8 C540.9 300.6 540.7 299.4 540.7 298.1 C540.6 296.9 540.7 295.5 540.9 294.2 C541 292.9 541.3 291.5 541.7 290.1 C542 288.8 542.5 287.4 543 286.1 C543.6 284.8 544.3 283.5 545 282.3 C545.7 281.1 546.5 280 547.3 278.9 C548.2 277.9 549.1 276.9 550.1 276 C551 275.2 552 274.5 553 273.9 C554 273.2 555 272.8 556 272.4 C557 272.1 558.1 271.9 559 271.8 C560 271.7 561 271.8 561.9 272 C562.8 272.3 563.6 272.6 564.4 273.1 C565.2 273.6 565.9 274.3 566.5 275 C567.2 275.7 567.9 277.1 568.2 277.6" fill="none" stroke="#151515" stroke-width="1.6"/>
<path d="M550.9 310 C550.4 309.9 549 309.6 548.1 309.2 C547.3 308.7 546.5 308.1 545.8 307.4 C545.1 306.7 544.4 305.8 543.9 304.9 C543.4 303.9 543 302.8 542.7 301.7 C542.4 300.5 542.2 299.3 542.1 298 C542 296.7 542.1 295.3 542.2 293.9 C542.4 292.5 542.6 291 543 289.6 C543.4 288.2 543.9 286.8 544.4 285.5 C545 284.1 545.7 282.8 546.5 281.5 C547.2 280.3 548.1 279.1 549 278 C549.8 276.9 550.8 275.9 551.8 275.1 C552.8 274.2 553.9 273.5 554.9 272.9 C555.9 272.3 557 271.9 558.1 271.6 C559.1 271.3 560.2 271.1 561.2 271.1 C562.2 271.2 563.1 271.3 564 271.6 C564.9 271.9 566.1 272.8 566.6 273" fill="none" stroke="#333" stroke-width="1.1"/>
<ellipse cx="558" cy="290" rx="13.2" ry="20.4" fill="none" stroke="#0d0d0d" stroke-width="2.05" transform="rotate(23 558 290)"/>
<ellipse cx="558" cy="289.8" rx="8.4" ry="13.2" fill="none" stroke="#0d0d0d" stroke-width="2.05" transform="rotate(23 558 289.8)"/>
<path d="M561.4 281 C560.4 281.3 557.3 280.9 555.6 282.6 C553.9 284.3 551.5 289.1 551 291 C550.5 292.9 552.3 293.5 552.6 294" fill="none" stroke="#151515" stroke-width="1.6"/>
<path d="M552.6 294 L558.4 288 L561.4 281" fill="none" stroke="#151515" stroke-width="1.6"/>
<path d="M556 284 L560.4 282.4" fill="none" stroke="#0a0a0a" stroke-width="2.6"/>
<path d="M553.6 287.6 L557.6 285.6" fill="none" stroke="#0d0d0d" stroke-width="2.05"/>
<path d="M550 311 L555.6 318 L556.4 309" fill="none" stroke="#0d0d0d" stroke-width="2.05"/>
<path d="M485.6 248.4 L506 238" fill="none" stroke="#151515" stroke-width="1.6"/>
<path d="M486.4 250.8 L504.4 242" fill="none" stroke="#151515" stroke-width="1.6"/>
<path d="M486 249.6 L505.2 240" fill="none" stroke="#0a0a0a" stroke-width="2.6"/>
<path d="M533 231 L564.4 215" fill="none" stroke="#151515" stroke-width="1.6"/>
<path d="M534 234 L564.4 219" fill="none" stroke="#151515" stroke-width="1.6"/>
<path d="M532.4 228.4 L565 212" fill="none" stroke="#333" stroke-width="1.1"/>
<path d="M533.6 232.4 L564.4 217" fill="none" stroke="#0a0a0a" stroke-width="2.6"/>
<path d="M592 209 L628 195.6" fill="none" stroke="#151515" stroke-width="1.6"/>
<path d="M593 212 L632 199" fill="none" stroke="#151515" stroke-width="1.6"/>
<path d="M592.4 210.4 L630 197.2" fill="none" stroke="#0a0a0a" stroke-width="2.6"/>
<path d="M525 268 L544 258" fill="none" stroke="#151515" stroke-width="1.6"/>
<path d="M534 266 L560 254 L568 242" fill="none" stroke="#151515" stroke-width="1.6"/>
<path d="M516 278.4 C520.7 277.7 535.3 277.1 544 274.4 C552.7 271.7 562 267.8 568 262.4 C574 257 578.2 246.9 580 242 C581.8 237.1 579 234.7 578.8 233.2" fill="none" stroke="#333" stroke-width="1.1"/>
<path d="M584 239.6 C587 238.9 596 237.5 602 235.6 C608 233.7 613.7 231.3 620 228 C626.3 224.7 636.7 218 640 216" fill="none" stroke="#333" stroke-width="1.1"/>
<path d="M440 296 C443.3 296.2 452.7 298 460 297 C467.3 296 477.3 292.8 484 290 C490.7 287.2 497.3 282 500 280.4" fill="none" stroke="#333" stroke-width="1.1"/>
<path d="M568 242 C572 241.3 585.7 238 592 238 C598.3 238 603.7 241.3 606 242" fill="none" stroke="#333" stroke-width="1.1"/>
<ellipse cx="586" cy="262.4" rx="1.6" ry="2" fill="none" stroke="#333" stroke-width="1.1"/>
<ellipse cx="525" cy="297.6" rx="1.6" ry="2" fill="none" stroke="#333" stroke-width="1.1"/>
<path d="M568 180 L569 190" fill="none" stroke="#333" stroke-width="1.1"/>
<path d="M577 177 L577.6 188" fill="none" stroke="#333" stroke-width="1.1"/>
<path d="M508 268 C508.7 269 510.3 272.2 512 274 C513.7 275.8 517 278.2 518 279" fill="none" stroke="#151515" stroke-width="1.6"/>
<path d="M568 233 C568.7 233.8 570.3 236.9 572 238 C573.7 239.1 577 239.3 578 239.6" fill="none" stroke="#151515" stroke-width="1.6"/>
<path d="M509 216.2 L510.2 230" fill="none" stroke="#0d0d0d" stroke-width="2.05"/>
<path d="M515.6 214.6 L516.6 226.2" fill="none" stroke="#0d0d0d" stroke-width="2.05"/>
<path d="M511.2 216 L512.2 228.4" fill="none" stroke="#333" stroke-width="1.1"/>
<path d="M513.4 215.4 L514.4 227.2" fill="none" stroke="#333" stroke-width="1.1"/>
<path d="M678.8 218 L682.4 216.8 L689.8 257.6 L685.8 260Z" fill="#fbfcfa" stroke="#0d0d0d" stroke-width="2.05"/>
<path d="M678.8 218.2 L674.2 231.4 L671.6 232.2" fill="none" stroke="#151515" stroke-width="1.6"/>
<path d="M674.2 231.4 L677.8 236" fill="none" stroke="#151515" stroke-width="1.6"/>
<path d="M705.8 218.2 C704.5 219 700 221 698 222.8 C696 224.6 694.3 226.8 693.8 228.8 C693.3 230.8 693.5 233.3 695 234.8 C696.5 236.3 701.5 237.2 702.8 237.7" fill="none" stroke="#0d0d0d" stroke-width="2.05"/>
<ellipse cx="709.4" cy="228.2" rx="7.4" ry="10.1" fill="#fbfcfa" stroke="#0d0d0d" stroke-width="2.05" transform="rotate(20 709.4 228.2)"/>
<ellipse cx="709.9" cy="228.2" rx="2.6" ry="3.6" fill="none" stroke="#0d0d0d" stroke-width="2.05" transform="rotate(20 709.9 228.2)"/>
<path d="M710.8 225.9 C710.9 225.9 711.2 225.9 711.3 225.9 C711.5 225.9 711.6 226 711.7 226 C711.9 226.1 712 226.2 712.1 226.3 C712.2 226.4 712.3 226.5 712.4 226.6 C712.5 226.8 712.6 226.9 712.6 227.1 C712.7 227.3 712.7 227.4 712.8 227.6 C712.8 227.8 712.8 228 712.8 228.2 C712.8 228.4 712.8 228.6 712.8 228.8 C712.7 229 712.7 229.2 712.6 229.4 C712.5 229.6 712.4 229.7 712.4 229.9 C712.3 230.1 712.1 230.3 712 230.4 C711.9 230.6 711.8 230.7 711.6 230.8 C711.5 231 711.4 231.1 711.2 231.2 C711.1 231.3 710.8 231.3 710.7 231.4" fill="none" stroke="#333" stroke-width="1.1"/>
<ellipse cx="709.8" cy="228.2" rx="4.8" ry="6.7" fill="none" stroke="#151515" stroke-width="1.6" transform="rotate(20 709.8 228.2)"/>
<path d="M674.2 241 C672.1 240.2 664.4 235.8 661.4 235.8 C658.4 235.7 656.9 238.8 656 240.8 C655.1 242.8 655.3 246 655.8 248 C656.3 250 656.4 250.9 659 252.8 C661.6 254.7 669.5 258.5 671.6 259.6" fill="none" stroke="#0d0d0d" stroke-width="2.05"/>
<ellipse cx="677.6" cy="250.4" rx="7.4" ry="10.2" fill="#fbfcfa" stroke="#0d0d0d" stroke-width="2.05" transform="rotate(20 677.6 250.4)"/>
<ellipse cx="678.1" cy="250.4" rx="4.2" ry="6" fill="none" stroke="#0d0d0d" stroke-width="2.05" transform="rotate(20 678.1 250.4)"/>
<path d="M679.3 246.2 C679.4 246.2 679.8 246.2 680 246.3 C680.2 246.3 680.5 246.4 680.7 246.5 C680.9 246.6 681.1 246.7 681.3 246.9 C681.4 247 681.6 247.2 681.8 247.5 C681.9 247.7 682 247.9 682.1 248.2 C682.2 248.5 682.3 248.8 682.3 249.1 C682.4 249.4 682.4 249.7 682.4 250 C682.3 250.3 682.3 250.7 682.2 251 C682.2 251.3 682.1 251.7 682 252 C681.9 252.3 681.7 252.6 681.6 252.9 C681.4 253.2 681.2 253.5 681 253.7 C680.8 254 680.6 254.2 680.4 254.4 C680.2 254.7 679.9 254.8 679.7 255 C679.5 255.1 679.1 255.3 679 255.4" fill="none" stroke="#333" stroke-width="1.1"/>
<path d="M644.6 254.2 C643.5 254.6 639.9 255.2 638 256.4 C636.1 257.6 633.7 259.3 633.2 261.2 C632.7 263.1 633.4 265.8 635 267.8 C636.6 269.8 641.5 272.1 642.8 273" fill="none" stroke="#0d0d0d" stroke-width="2.05"/>
<ellipse cx="648.6" cy="263.6" rx="7.4" ry="9.6" fill="#fbfcfa" stroke="#0d0d0d" stroke-width="2.05" transform="rotate(20 648.6 263.6)"/>
<ellipse cx="649" cy="263.6" rx="3.4" ry="4.6" fill="none" stroke="#0d0d0d" stroke-width="2.05" transform="rotate(20 649 263.6)"/>
<path d="M650.1 260.5 C650.2 260.5 650.5 260.5 650.7 260.6 C650.8 260.6 651 260.6 651.2 260.7 C651.4 260.8 651.5 260.9 651.7 261.1 C651.8 261.2 652 261.3 652.1 261.5 C652.2 261.7 652.3 261.9 652.4 262.1 C652.4 262.3 652.5 262.5 652.5 262.7 C652.6 263 652.6 263.2 652.6 263.5 C652.6 263.7 652.5 264 652.5 264.2 C652.5 264.5 652.4 264.7 652.3 265 C652.2 265.2 652.1 265.4 652 265.7 C651.9 265.9 651.7 266.1 651.6 266.3 C651.4 266.5 651.3 266.7 651.1 266.8 C650.9 267 650.7 267.1 650.5 267.2 C650.3 267.4 650 267.5 649.9 267.5" fill="none" stroke="#333" stroke-width="1.1"/>
<path d="M687.2 264.2 C684 264.2 671.1 263.1 668 264.2 C664.9 265.3 665.7 268.6 668.6 270.8 C671.5 273 682.6 276.3 685.4 277.4" fill="none" stroke="#0d0d0d" stroke-width="2.05"/>
<ellipse cx="690.2" cy="270.8" rx="5.4" ry="7" fill="#fbfcfa" stroke="#0d0d0d" stroke-width="2.05" transform="rotate(20 690.2 270.8)"/>
<ellipse cx="690.7" cy="270.8" rx="2.4" ry="3.2" fill="none" stroke="#0d0d0d" stroke-width="2.05" transform="rotate(20 690.7 270.8)"/>
<path d="M691.6 268.8 C691.7 268.8 691.9 268.8 692 268.8 C692.2 268.8 692.3 268.8 692.4 268.9 C692.5 269 692.7 269 692.8 269.1 C692.9 269.2 693 269.3 693 269.5 C693.1 269.6 693.2 269.7 693.2 269.9 C693.3 270 693.3 270.2 693.4 270.3 C693.4 270.5 693.4 270.7 693.4 270.8 C693.4 271 693.4 271.2 693.4 271.4 C693.3 271.6 693.3 271.7 693.2 271.9 C693.2 272.1 693.1 272.2 693 272.4 C692.9 272.6 692.8 272.7 692.7 272.9 C692.6 273 692.5 273.1 692.3 273.2 C692.2 273.3 692.1 273.4 692 273.5 C691.8 273.6 691.6 273.7 691.5 273.7" fill="none" stroke="#333" stroke-width="1.1"/>
<path d="M669.2 267.2 L685.4 272" fill="none" stroke="#151515" stroke-width="1.6"/>
<path d="M719.6 275 L709.4 267.4 L698 270.2 L696.8 276.8 L698.6 286.4" fill="none" stroke="#0d0d0d" stroke-width="2.05"/>
<path d="M709.4 282.8 L702.8 277 L698 278" fill="none" stroke="#151515" stroke-width="1.6"/>
<path d="M698 292.4 C697.8 290.4 697.4 288.3 698.6 286.4 C699.8 284.5 701.8 283.5 704 282.8 C706.2 282.1 707.6 283.8 709.4 282.8 C711.2 281.8 711 279.6 713 278 C715 276.4 717.3 275 719.6 275 C721.9 275 723.3 276 724.4 278 C725.5 280 725.7 282.8 725 285.2 C724.3 287.6 722.8 288.7 720.8 290 C718.8 291.3 716.7 290.6 714.8 291.8 C712.9 293 713.1 294.7 711.2 296 C709.3 297.3 707.5 298.3 705.2 298.4 C702.9 298.5 701.2 297.8 699.8 296.6 C698.4 295.4 698.2 294.4 698 292.4Z" fill="#fbfcfa" stroke="#0d0d0d" stroke-width="2.05"/>
<ellipse cx="717.8" cy="282.8" rx="3.4" ry="4.8" fill="none" stroke="#0d0d0d" stroke-width="2.05" transform="rotate(20 717.8 282.8)"/>
<ellipse cx="704.6" cy="290" rx="2.9" ry="4.1" fill="none" stroke="#0d0d0d" stroke-width="2.05" transform="rotate(20 704.6 290)"/>
<path d="M699.8 237.8 L702.8 249.2" fill="none" stroke="#0d0d0d" stroke-width="2.05"/>
<path d="M704 238.4 L706.4 250.4" fill="none" stroke="#0d0d0d" stroke-width="2.05"/>
<path d="M709 237.8 L710.2 260" fill="none" stroke="#0d0d0d" stroke-width="2.05"/>
<path d="M696.8 250.4 C697 249 702 247.6 704 248 C706 248.4 709 251.4 708.8 252.8 C708.6 254.2 704.8 256.8 702.8 256.4 C700.8 256 696.6 251.8 696.8 250.4Z" fill="none" stroke="#0d0d0d" stroke-width="2.05"/>
<path d="M692 258.8 L699.2 252.8" fill="none" stroke="#151515" stroke-width="1.6"/>
<path d="M694.4 261.4 L704 254.2" fill="none" stroke="#151515" stroke-width="1.6"/>
<path d="M704 211 L708.8 214.6 L711.2 213.4" fill="none" stroke="#151515" stroke-width="1.6"/>
<path d="M633.2 247.4 L672.8 225.8 L702.8 209.6" fill="none" stroke="#333" stroke-width="1.1"/>
<path d="M634.4 252.8 L659.6 236" fill="none" stroke="#333" stroke-width="1.1"/>
<path d="M638 272 L638 286.4" fill="none" stroke="#151515" stroke-width="1.6"/>
<path d="M671.6 276.8 C671.8 278 673.6 282 673 284 C672.4 286 668.8 288.2 668 289" fill="none" stroke="#0d0d0d" stroke-width="2.05"/>
<path d="M680 281.6 L676.4 296 L682.4 299.6" fill="none" stroke="#0d0d0d" stroke-width="2.05"/>
<path d="M684.8 282.8 L696.8 291.2" fill="none" stroke="#0d0d0d" stroke-width="2.05"/>
<path d="M687.2 284 L684.8 296 L687.2 303.2" fill="none" stroke="#151515" stroke-width="1.6"/>
<path d="M692 286.4 L696.8 296" fill="none" stroke="#151515" stroke-width="1.6"/>
<path d="M592.4 173 C593.7 172.1 597.4 169.2 600 167.6 C602.6 166 604.7 164.4 608 163.2 C611.3 162 616.8 161.3 620 160.4 C623.2 159.5 625.7 159.7 627 158 C628.3 156.3 627.3 152.6 628 150 C628.7 147.4 629.3 144.2 631 142.4 C632.7 140.6 635.5 138.7 638 139 C640.5 139.3 644.2 141.8 646 144 C647.8 146.2 647.5 149.9 649 152 C650.5 154.1 653.8 154.4 655 156.4 C656.2 158.4 656.5 161.1 656.4 164 C656.3 166.9 654.4 170.7 654.4 174 C654.4 177.3 656.7 181.1 656.4 184 C656.1 186.9 654.4 189.7 652.4 191.6 C650.4 193.5 647.1 194.3 644.4 195.2 C641.7 196.1 638.1 196.5 636.4 197.2 C634.7 197.9 634.4 199.2 634 199.6" fill="none" stroke="#0d0d0d" stroke-width="2.05"/>
<path d="M592.4 206 C593.2 205.2 595.4 202.2 597 201.2 C598.6 200.2 600.2 199.7 602 200 C603.8 200.3 605 203.7 608 202.8 C611 201.9 617.2 196.8 620 194.4 C622.8 192 623.7 188.5 625 188.4 C626.3 188.3 626.5 191.7 628 193.6 C629.5 195.5 633 198.6 634 199.6" fill="none" stroke="#0d0d0d" stroke-width="2.05"/>
<path d="M600 170 C601.3 169.3 604.7 167.1 608 166 C611.3 164.9 616.5 164.1 620 163.2 C623.5 162.3 627.3 162.4 629 160.4 C630.7 158.4 629.7 153.7 630.4 151 C631.1 148.3 632.6 145.5 633 144.4" fill="none" stroke="#151515" stroke-width="1.6"/>
<ellipse cx="640.4" cy="179" rx="8.8" ry="13.2" fill="none" stroke="#0d0d0d" stroke-width="2.05" transform="rotate(25 640.4 179)"/>
<ellipse cx="642" cy="180" rx="6.8" ry="10.8" fill="none" stroke="#151515" stroke-width="1.6" transform="rotate(25 642 180)"/>
<path d="M638 170 C637.7 171.7 635.7 177 636 180 C636.3 183 639.3 186.7 640 188" fill="none" stroke="#333" stroke-width="1.1"/>
<ellipse cx="641" cy="150" rx="2.8" ry="3.6" fill="none" stroke="#151515" stroke-width="1.6" transform="rotate(20 641 150)"/>
<ellipse cx="650" cy="160" rx="2.2" ry="3" fill="none" stroke="#151515" stroke-width="1.6" transform="rotate(20 650 160)"/>
<ellipse cx="650" cy="188" rx="2.2" ry="3" fill="none" stroke="#151515" stroke-width="1.6" transform="rotate(20 650 188)"/>
<path d="M651 150 L668 143.8 L654.8 152.2Z" fill="#111" stroke="#151515" stroke-width="1.6"/>
<path d="M594 207 L626 190" fill="none" stroke="#333" stroke-width="1.1"/>
<path d="M594.6 208.2 L626.6 191.2" fill="none" stroke="#333" stroke-width="1.1"/>
<path d="M595.2 209.4 L627.2 192.4" fill="none" stroke="#333" stroke-width="1.1"/>
<path d="M595.8 210.6 L627.8 193.6" fill="none" stroke="#333" stroke-width="1.1"/>
<path d="M596.4 211.8 L628.4 194.8" fill="none" stroke="#333" stroke-width="1.1"/>
<path d="M634 199.6 C635 200.9 634 208 640 207.6 C646 207.2 660.7 202.1 670 197.2 C679.3 192.3 690.6 182.5 696 178 C701.4 173.5 701.3 171.3 702.4 170" fill="none" stroke="#151515" stroke-width="1.6"/>
<path d="M656.4 190 C660.3 188.3 672.7 184 680 180 C687.3 176 696.7 168.3 700 166" fill="none" stroke="#333" stroke-width="1.1"/>
<path d="M636 207 C636.3 206.2 638.3 203.2 638 202 C637.7 200.8 634.7 200 634 199.6" fill="none" stroke="#333" stroke-width="1.1"/>
<path d="M691 129 L684 131.4" fill="none" stroke="#151515" stroke-width="1.6"/>
<path d="M692.5 141 L685.5 143.4" fill="none" stroke="#151515" stroke-width="1.6"/>
<path d="M682.9 143 C682.8 143 682.3 142.8 682.1 142.6 C681.8 142.4 681.5 142.1 681.3 141.9 C681.1 141.6 680.9 141.3 680.7 141 C680.5 140.7 680.4 140.3 680.3 140 C680.2 139.6 680.1 139.2 680.1 138.8 C680 138.4 680 138 680.1 137.6 C680.1 137.2 680.2 136.8 680.3 136.4 C680.4 136 680.6 135.6 680.7 135.2 C680.9 134.8 681.1 134.4 681.3 134.1 C681.6 133.8 681.8 133.4 682.1 133.2 C682.4 132.9 682.7 132.6 683 132.4 C683.3 132.2 683.7 132 684 131.9 C684.3 131.7 684.7 131.6 685 131.6 C685.4 131.5 685.7 131.5 686.1 131.5 C686.4 131.6 686.9 131.7 687.1 131.8" fill="none" stroke="#151515" stroke-width="1.6"/>
<ellipse cx="692" cy="135" rx="4.8" ry="6" fill="#fbfcfa" stroke="#0d0d0d" stroke-width="2.05" transform="rotate(20 692 135)"/>
<ellipse cx="692.2" cy="135.2" rx="2" ry="2.6" fill="none" stroke="#151515" stroke-width="1.6" transform="rotate(20 692.2 135.2)"/>
<path d="M691 156 L684 158.4" fill="none" stroke="#151515" stroke-width="1.6"/>
<path d="M692.5 168 L685.5 170.4" fill="none" stroke="#151515" stroke-width="1.6"/>
<path d="M682.9 170 C682.8 170 682.3 169.8 682.1 169.6 C681.8 169.4 681.5 169.1 681.3 168.9 C681.1 168.6 680.9 168.3 680.7 168 C680.5 167.7 680.4 167.3 680.3 167 C680.2 166.6 680.1 166.2 680.1 165.8 C680 165.4 680 165 680.1 164.6 C680.1 164.2 680.2 163.8 680.3 163.4 C680.4 163 680.6 162.6 680.7 162.2 C680.9 161.8 681.1 161.4 681.3 161.1 C681.6 160.8 681.8 160.4 682.1 160.2 C682.4 159.9 682.7 159.6 683 159.4 C683.3 159.2 683.7 159 684 158.9 C684.3 158.7 684.7 158.6 685 158.6 C685.4 158.5 685.7 158.5 686.1 158.5 C686.4 158.6 686.9 158.7 687.1 158.8" fill="none" stroke="#151515" stroke-width="1.6"/>
<ellipse cx="692" cy="162" rx="4.8" ry="6" fill="#fbfcfa" stroke="#0d0d0d" stroke-width="2.05" transform="rotate(20 692 162)"/>
<ellipse cx="692.2" cy="162.2" rx="2" ry="2.6" fill="none" stroke="#151515" stroke-width="1.6" transform="rotate(20 692.2 162.2)"/>
<path d="M684.4 149 C684.2 148.8 683.3 148.3 682.8 147.8 C682.3 147.4 681.9 146.8 681.5 146.2 C681.1 145.6 680.8 144.9 680.5 144.2 C680.3 143.5 680.1 142.7 679.9 141.9 C679.8 141.1 679.8 140.3 679.8 139.5 C679.8 138.6 679.9 137.8 680 136.9 C680.2 136.1 680.4 135.2 680.7 134.4 C681 133.6 681.3 132.8 681.7 132.1 C682.1 131.4 682.6 130.7 683.1 130.1 C683.6 129.4 684.2 128.9 684.8 128.4 C685.4 127.9 686 127.5 686.6 127.1 C687.3 126.8 687.9 126.6 688.6 126.4 C689.2 126.2 690.2 126.2 690.5 126.2" fill="none" stroke="#333" stroke-width="1.1"/>
<path d="M684.4 175 C684.2 174.8 683.3 174.3 682.8 173.8 C682.3 173.4 681.9 172.8 681.5 172.2 C681.1 171.6 680.8 170.9 680.5 170.2 C680.3 169.5 680.1 168.7 679.9 167.9 C679.8 167.1 679.8 166.3 679.8 165.5 C679.8 164.6 679.9 163.8 680 162.9 C680.2 162.1 680.4 161.2 680.7 160.4 C681 159.6 681.3 158.8 681.7 158.1 C682.1 157.4 682.6 156.7 683.1 156.1 C683.6 155.4 684.2 154.9 684.8 154.4 C685.4 153.9 686 153.5 686.6 153.1 C687.3 152.8 687.9 152.6 688.6 152.4 C689.2 152.2 690.2 152.2 690.5 152.2" fill="none" stroke="#333" stroke-width="1.1"/>
<path d="M697.2 131.6 C698.7 132.6 703.9 135.4 706 137.6 C708.1 139.8 708.7 140.3 710 145 C711.3 149.7 712.3 159.2 714 166 C715.7 172.8 718.3 180.8 720 186 C721.7 191.2 723.7 195.2 724.4 197" fill="none" stroke="#0d0d0d" stroke-width="2.05"/>
<path d="M694.4 142.4 C695.3 144.3 698.1 148.3 700 153.6 C701.9 158.9 704.3 167.5 706 174 C707.7 180.5 709.7 189.3 710.4 192.4" fill="none" stroke="#0d0d0d" stroke-width="2.05"/>
<path d="M700 142 C701 144.7 703.9 151.7 706 158 C708.1 164.3 710.7 174 712.4 180 C714.1 186 715.4 191.7 716 194" fill="none" stroke="#151515" stroke-width="1.6"/>
<path d="M708 193.6 C709 193.4 711.5 191.8 714 192.4 C716.5 193 721.3 195.1 723 197 C724.7 198.9 724.7 202 724.4 204 C724.1 206 722.7 207.7 721 209 C719.3 210.3 715.8 212 714 212 C712.2 212 710.7 209.5 710 209" fill="none" stroke="#0d0d0d" stroke-width="2.05"/>
<path d="M706 197 C705.5 198.2 702.8 201.7 703 204 C703.2 206.3 705.3 209.7 707 211 C708.7 212.3 712 211.8 713 212" fill="none" stroke="#151515" stroke-width="1.6"/>
<ellipse cx="708" cy="193.6" rx="1.6" ry="1.8" fill="none" stroke="#151515" stroke-width="1.6"/>
<ellipse cx="712.4" cy="194.4" rx="1.2" ry="1.4" fill="none" stroke="#151515" stroke-width="1.6"/>
<path d="M710 199 C711 199.5 714.8 200.3 716 202 C717.2 203.7 716.8 207.8 717 209" fill="none" stroke="#151515" stroke-width="1.6"/>
<path d="M660 278 L628 296 L616 307" fill="none" stroke="#151515" stroke-width="1.6"/>
<path d="M668 282 L634 302" fill="none" stroke="#151515" stroke-width="1.6"/>
<ellipse cx="646.4" cy="228" rx="1.6" ry="2.2" fill="none" stroke="#333" stroke-width="1.1"/>
<ellipse cx="585.6" cy="262.4" rx="1.6" ry="2.2" fill="none" stroke="#333" stroke-width="1.1"/>
<path d="M612 277 L609 290 L610 307" fill="none" stroke="#151515" stroke-width="1.6"/>
<path d="M617 278 L615 292 L617 307" fill="none" stroke="#151515" stroke-width="1.6"/>
<path d="M540 258 C544 256.7 557.3 254 564 250 C570.7 246 577.3 236.7 580 234" fill="none" stroke="#333" stroke-width="1.1"/>
<path d="M572 277 C573.3 278.8 578.2 283 580 288 C581.8 293 582.5 303.8 583 307" fill="none" stroke="#333" stroke-width="1.1"/>
<path d="M634 246 C637 244.7 646.3 240.7 652 238 C657.7 235.3 665.3 231.3 668 230" fill="none" stroke="#333" stroke-width="1.1"/>
<path d="M341.8 290 C341.4 290.8 340.4 292.8 339.4 294.8 C338.4 296.8 336.9 299.2 335.8 302 C334.7 304.8 333.9 308.2 332.8 311.6 C331.7 315 330.2 319.4 329.2 322.4 C328.2 325.4 327 327 326.8 329.6 C326.6 332.2 328 335.4 328 338 C328 340.6 327.8 343.4 326.8 345.2 C325.8 347 324 347.5 322 348.8 C320 350.1 316.4 351.6 314.8 353 C313.2 354.4 312.6 356.5 312.2 357.2" fill="none" stroke="#0d0d0d" stroke-width="2.05"/>
<path d="M312.2 357.2 L312.2 365.4 L350.8 388.6 L361 382.6 L359.4 372.8" fill="none" stroke="#0d0d0d" stroke-width="2.05"/>
<path d="M312.2 357.2 L318.4 351.8 L328 357.2 L328 362" fill="none" stroke="#151515" stroke-width="1.6"/>
<path d="M314.8 360.8 L350.2 382.4 L350.8 388.6" fill="none" stroke="#151515" stroke-width="1.6"/>
<path d="M350.2 382.4 L360.2 376.6" fill="none" stroke="#151515" stroke-width="1.6"/>
<path d="M351.4 378.8 L359.8 374" fill="none" stroke="#333" stroke-width="1.1"/>
<path d="M352 374.6 L359.4 370.2" fill="none" stroke="#333" stroke-width="1.1"/>
<path d="M359.4 372.8 C359.2 371 358.8 365.4 358 362 C357.2 358.6 354.9 355.6 354.6 352.4 C354.3 349.2 355 346 356.2 342.8 C357.4 339.6 360.5 337 361.6 333.2 C362.7 329.4 362.3 323.2 362.8 320 C363.3 316.8 363.6 315.1 364.6 313.8 C365.6 312.4 367.4 311.7 368.8 311.8 C370.2 312 372.3 314.1 373 314.6" fill="none" stroke="#0d0d0d" stroke-width="2.05"/>
<ellipse cx="347.2" cy="298.4" rx="3" ry="4.2" fill="none" stroke="#0d0d0d" stroke-width="2.05" transform="rotate(-18 347.2 298.4)"/>
<ellipse cx="347.6" cy="298.6" rx="1.8" ry="2.7" fill="none" stroke="#333" stroke-width="1.1" transform="rotate(-18 347.6 298.6)"/>
<ellipse cx="331.6" cy="334.4" rx="3" ry="3.8" fill="none" stroke="#0d0d0d" stroke-width="2.05" transform="rotate(-18 331.6 334.4)"/>
<ellipse cx="332" cy="334.6" rx="1.8" ry="2.5" fill="none" stroke="#333" stroke-width="1.1" transform="rotate(-18 332 334.6)"/>
<ellipse cx="331.6" cy="358.4" rx="3" ry="3.8" fill="none" stroke="#0d0d0d" stroke-width="2.05" transform="rotate(-18 331.6 358.4)"/>
<ellipse cx="332" cy="358.6" rx="1.8" ry="2.5" fill="none" stroke="#333" stroke-width="1.1" transform="rotate(-18 332 358.6)"/>
<ellipse cx="349" cy="343.4" rx="3" ry="4.2" fill="none" stroke="#0d0d0d" stroke-width="2.05" transform="rotate(-18 349 343.4)"/>
<ellipse cx="349.4" cy="343.6" rx="1.8" ry="2.7" fill="none" stroke="#333" stroke-width="1.1" transform="rotate(-18 349.4 343.6)"/>
<ellipse cx="346.6" cy="377.6" rx="1.8" ry="2.6" fill="none" stroke="#151515" stroke-width="1.6" transform="rotate(-18 346.6 377.6)"/>
<ellipse cx="367" cy="321.4" rx="2.2" ry="3" fill="none" stroke="#151515" stroke-width="1.6" transform="rotate(-18 367 321.4)"/>
<ellipse cx="410.2" cy="346.4" rx="2.2" ry="3" fill="none" stroke="#151515" stroke-width="1.6" transform="rotate(-18 410.2 346.4)"/>
<path d="M344.2 308 C346.4 306.1 349.8 307 351.4 309.4 C353 311.8 352.2 316 352.2 320 C352.3 324 353 327.2 351.8 329.6 C350.5 332 348.6 332.2 346 332.2 C343.4 332.2 339.9 332.3 338.8 329.6 C337.7 326.9 339.5 323.1 340.6 318.8 C341.7 314.5 342 309.9 344.2 308Z" fill="none" stroke="#0d0d0d" stroke-width="2.05"/>
<path d="M346 311.6 C346.6 311.8 349 310.2 349.6 313 C350.2 315.8 349.8 325.8 349.8 328.4" fill="none" stroke="#151515" stroke-width="1.6"/>
<path d="M342.4 320 C343 320.2 344.8 321.3 346 321.4 C347.2 321.5 349 320.7 349.6 320.6" fill="none" stroke="#151515" stroke-width="1.6"/>
<path d="M344.8 309.2 L350.8 310.4" fill="none" stroke="#0a0a0a" stroke-width="2.6"/>
<path d="M335.8 344 C336.3 340.9 338.4 340.4 340.2 341.6 C342 342.8 343.6 345.4 344.8 350 C346 354.6 346.7 359.8 346 364.4 C345.3 369 343.5 371.8 341.4 372.8 C339.4 373.8 336.5 372.3 335.8 369.2 C335.1 366.1 337.8 362.2 337.8 357.2 C337.8 352.2 335.3 347.1 335.8 344Z" fill="none" stroke="#0d0d0d" stroke-width="2.05"/>
<path d="M338.8 346.4 C339.4 347.4 341.5 349.6 342.2 352.4 C342.9 355.2 343.4 360.4 343 363.2 C342.6 366 340.5 368.2 340 369.2" fill="none" stroke="#151515" stroke-width="1.6"/>
<path d="M337 368 L341.4 371.6" fill="none" stroke="#0a0a0a" stroke-width="2.6"/>
<path d="M355.6 297.4 C356.2 297 358.2 294.8 359.2 294.8 C360.2 294.8 362 295.6 361.8 297.4 C361.7 299.2 359.4 303.5 358.2 305.6 C357.1 307.7 355.5 309.1 355 309.8" fill="none" stroke="#151515" stroke-width="1.6"/>
<path d="M341.8 290 C342.3 290.6 343.3 291.4 344.8 293.6 C346.3 295.8 349.2 301 350.8 303.2 C352.4 305.4 353.8 306.2 354.4 306.8" fill="none" stroke="#151515" stroke-width="1.6"/>
<path d="M353.2 310.4 C353.4 313 354.3 322.6 354.2 326 C354 329.4 352.6 330 352.2 330.8" fill="none" stroke="#151515" stroke-width="1.6"/>
<path d="M358 294.2 L415.6 326 L421.6 329.8 L425.4 338" fill="none" stroke="#0d0d0d" stroke-width="2.05"/>
<path d="M372.4 302.6 L372.6 314" fill="none" stroke="#151515" stroke-width="1.6"/>
<path d="M380.2 306.8 L380.3 312.8" fill="none" stroke="#151515" stroke-width="1.6"/>
<path d="M386.8 310.4 L386.8 315.8" fill="none" stroke="#151515" stroke-width="1.6"/>
<path d="M407.2 321.4 L407.4 329.6" fill="none" stroke="#151515" stroke-width="1.6"/>
<path d="M373 314.6 C374.5 314.9 378.5 315.4 382 316.6 C385.5 317.9 390.2 319.8 394 322.2 C397.8 324.5 402.8 328.7 404.8 330.8 C406.8 332.9 405.8 334 406 334.6" fill="none" stroke="#151515" stroke-width="1.6"/>
<path d="M386.8 315.8 C388.4 316.3 393.4 317.3 396.4 318.8 C399.4 320.3 403 323 404.8 324.8 C406.6 326.6 407 328.8 407.4 329.6" fill="none" stroke="#151515" stroke-width="1.6"/>
<path d="M356.2 342.8 C357.1 341 359.3 334.8 361.6 332 C363.9 329.2 367 327.3 370 326 C373 324.7 376 323.8 379.6 324.2 C383.2 324.6 387.6 325.7 391.6 328.4 C395.6 331.1 400 335.6 403.6 340.4 C407.2 345.2 410.5 351.6 413.2 357.2 C415.9 362.8 418.3 369.4 419.8 374 C421.3 378.6 421.8 383 422.2 384.8" fill="none" stroke="#0d0d0d" stroke-width="2.05"/>
<path d="M358.6 348.8 C359.1 347.2 360.1 342 361.6 339.2 C363.1 336.4 365.2 333.8 367.6 332 C370 330.2 373.2 328.9 376 328.4 C378.8 327.9 381.2 327.8 384.4 329 C387.6 330.2 391.6 332.3 395.2 335.6 C398.8 338.9 402.8 343.6 406 348.8 C409.2 354 412.3 361.2 414.4 366.8 C416.5 372.4 417.9 379.8 418.6 382.4" fill="none" stroke="#0a0a0a" stroke-width="2.6"/>
<path d="M362.8 348.8 C363.2 347.6 363.8 343.8 365.2 341.6 C366.6 339.4 369 337 371.2 335.6 C373.4 334.2 375.8 333.4 378.4 333.2 C381 333 383.8 333 386.8 334.4 C389.8 335.8 393.4 338.4 396.4 341.6 C399.4 344.8 402.2 349 404.8 353.6 C407.4 358.2 410.2 364.6 412 369.2 C413.8 373.8 415 379.2 415.6 381.2" fill="none" stroke="#0d0d0d" stroke-width="2.05"/>
<path d="M360.4 349 C360.9 347.6 361.9 342.9 363.4 340.4 C364.9 337.9 367.1 335.4 369.4 333.8 C371.7 332.2 374.5 331.2 377.2 330.8 C379.9 330.4 382.5 330.3 385.6 331.6 C388.7 332.9 392.5 335.3 395.8 338.6 C399.1 341.9 402.5 346.3 405.4 351.2 C408.3 356.1 411.3 362.9 413.2 368 C415.1 373.1 416.4 379.5 417 381.8" fill="none" stroke="#151515" stroke-width="1.6"/>
<path d="M368.8 350 C369.1 349 369.5 345.8 370.6 344 C371.7 342.2 373.5 340.2 375.4 339.2 C377.3 338.2 379.9 337.9 382 338 C384.1 338.1 387 339.5 388 339.8" fill="none" stroke="#151515" stroke-width="1.6"/>
<path d="M372.4 350 C372.5 348.9 372.6 345.7 373.6 344 C374.6 342.3 376.6 340.6 378.4 339.8 C380.2 339 382.6 338.9 384.4 339.2 C386.2 339.5 389.6 340.4 389.2 341.6 C388.8 342.8 384.7 344.9 382 346.4 C379.3 347.9 374.6 350 373 350.6 C371.4 351.2 372.3 351.1 372.4 350Z" fill="none" stroke="#0d0d0d" stroke-width="2.05"/>
<path d="M411.4 374 L413.4 381.2 L418.6 383 L422.2 384.8" fill="none" stroke="#151515" stroke-width="1.6"/>
<path d="M356.2 350 L362.8 348.8 L368.8 350 L372.4 350" fill="none" stroke="#333" stroke-width="1.1"/>
<path d="M357 346.4 L359.4 345.4" fill="none" stroke="#333" stroke-width="1.1"/>
<path d="M357.8 343.8 L360.3 342.8" fill="none" stroke="#333" stroke-width="1.1"/>
<path d="M358.5 341.1 L361.1 340.2" fill="none" stroke="#333" stroke-width="1.1"/>
<path d="M359.2 338.5 L362 337.5" fill="none" stroke="#333" stroke-width="1.1"/>
<path d="M359.9 335.8 L362.8 334.9" fill="none" stroke="#333" stroke-width="1.1"/>
<path d="M360.6 333.2 L363.6 332.2" fill="none" stroke="#333" stroke-width="1.1"/>
<ellipse cx="440.8" cy="337.9" rx="18.5" ry="25" fill="none" stroke="#0d0d0d" stroke-width="2.05" transform="rotate(-40 440.8 337.9)"/>
<ellipse cx="439.2" cy="337.8" rx="16" ry="22.4" fill="none" stroke="#151515" stroke-width="1.6" transform="rotate(-40 439.2 337.8)"/>
<path d="M436.1 319.8 C436.4 321.3 436.8 325.8 438 329 C439.2 332.2 441.1 335.7 443.4 338.8 C445.6 341.9 450.1 346.3 451.5 347.8" fill="none" stroke="#151515" stroke-width="1.6"/>
<ellipse cx="431.6" cy="333.4" rx="2.2" ry="2.7" fill="none" stroke="#333" stroke-width="1.1"/>
<path d="M423.5 327 L434.3 321.6" fill="none" stroke="#333" stroke-width="1.1"/>
<path d="M435.2 336 L447 329.7" fill="none" stroke="#333" stroke-width="1.1"/>
<ellipse cx="445.4" cy="372" rx="3.6" ry="4.8" fill="none" stroke="#0d0d0d" stroke-width="2.05" transform="rotate(-18 445.4 372)"/>
<ellipse cx="445.8" cy="372.2" rx="2.2" ry="3.2" fill="none" stroke="#333" stroke-width="1.1" transform="rotate(-18 445.8 372.2)"/>
<ellipse cx="428.6" cy="390" rx="3.4" ry="4.6" fill="none" stroke="#0d0d0d" stroke-width="2.05" transform="rotate(-18 428.6 390)"/>
<ellipse cx="429" cy="390.2" rx="2.1" ry="3" fill="none" stroke="#333" stroke-width="1.1" transform="rotate(-18 429 390.2)"/>
<ellipse cx="445.4" cy="399.6" rx="3.6" ry="4.6" fill="none" stroke="#0d0d0d" stroke-width="2.05" transform="rotate(-18 445.4 399.6)"/>
<ellipse cx="445.8" cy="399.8" rx="2.2" ry="3" fill="none" stroke="#333" stroke-width="1.1" transform="rotate(-18 445.8 399.8)"/>
<ellipse cx="445.4" cy="422.4" rx="3.4" ry="4.6" fill="none" stroke="#0d0d0d" stroke-width="2.05" transform="rotate(-18 445.4 422.4)"/>
<ellipse cx="445.8" cy="422.6" rx="2.1" ry="3" fill="none" stroke="#333" stroke-width="1.1" transform="rotate(-18 445.8 422.6)"/>
<ellipse cx="431.6" cy="426.6" rx="1.8" ry="2.4" fill="none" stroke="#151515" stroke-width="1.6" transform="rotate(-18 431.6 426.6)"/>
<ellipse cx="435.2" cy="363.6" rx="1.2" ry="1.6" fill="none" stroke="#0a0a0a" stroke-width="2.6" transform="rotate(-18 435.2 363.6)"/>
<ellipse cx="464.4" cy="332.6" rx="1.2" ry="1.7" fill="none" stroke="#333" stroke-width="1.1"/>
<ellipse cx="510.2" cy="403.2" rx="2.6" ry="1.8" fill="none" stroke="#151515" stroke-width="1.6"/>
<ellipse cx="498.2" cy="426" rx="2.2" ry="3" fill="none" stroke="#151515" stroke-width="1.6" transform="rotate(-18 498.2 426)"/>
<path d="M452.6 358.2 C452.5 359.5 451.5 364.1 452 366 C452.5 367.9 455.1 367.6 455.6 369.6 C456.1 371.6 455.8 375.8 455 378 C454.2 380.2 451.7 380.4 450.8 382.8 C449.9 385.2 449.5 390 449.6 392.4 C449.7 394.8 451.3 394.8 451.4 397.2 C451.5 399.6 449.8 404 450.2 406.8 C450.6 409.6 453 411.2 453.8 414 C454.6 416.8 454.3 421.2 455 423.6 C455.7 426 457.5 427.6 458 428.4" fill="none" stroke="#0d0d0d" stroke-width="2.05"/>
<path d="M438.8 366 C438.7 368.4 437.7 377.2 438.2 380.4 C438.7 383.6 441.4 382.8 441.8 385.2 C442.2 387.6 441.1 392 440.6 394.8 C440.1 397.6 438.9 399.2 438.8 402 C438.7 404.8 440.3 408.8 440 411.6 C439.7 414.4 437.2 415.8 437 418.8 C436.8 421.8 438.5 427.8 438.8 429.6" fill="none" stroke="#151515" stroke-width="1.6"/>
<path d="M429.8 400.8 C431.6 397.7 436.3 396 438.2 398.4 C440.1 400.8 440.2 408.2 439.4 412.8 C438.6 417.4 436 421 434 421.2 C432 421.4 430 418.1 429.2 414 C428.4 409.9 428 403.9 429.8 400.8Z" fill="none" stroke="#151515" stroke-width="1.6"/>
<path d="M422 382.8 C423 382.5 426 381 428 381 C430 381 433 382.5 434 382.8" fill="none" stroke="#151515" stroke-width="1.6"/>
<path d="M452.6 364.8 C454.5 364.2 461.3 361.5 464 361.2 C466.7 360.9 468.2 361.8 468.8 363 C469.4 364.2 469.4 366.3 467.6 368.4 C465.8 370.5 460.1 374.6 458 375.6 C455.9 376.6 455.5 374.8 455 374.6" fill="none" stroke="#0d0d0d" stroke-width="2.05"/>
<path d="M457.4 366.6 C458.5 366.3 462.7 364.6 464 364.6 C465.3 364.6 466.4 365.4 465.4 366.6 C464.4 367.8 459.2 371.1 458 372" fill="none" stroke="#151515" stroke-width="1.6"/>
<path d="M453.8 411.6 C454.5 411.1 456 408.9 458 408.6 C460 408.3 464 408.9 465.8 409.8 C467.6 410.7 469.1 411.7 468.8 414 C468.5 416.3 465.8 421.4 464 423.6 C462.2 425.8 459 426.6 458 427.2" fill="none" stroke="#0d0d0d" stroke-width="2.05"/>
<path d="M458 412.8 C458.8 412.6 461.6 411.4 462.8 411.8 C464 412.2 465.4 413.4 465.2 415.2 C465 417 462.2 421.2 461.6 422.4" fill="none" stroke="#151515" stroke-width="1.6"/>
<path d="M450.8 392.4 C452 392.1 456.3 390.6 458 390.6 C459.7 390.6 460.6 391.1 461 392.4 C461.4 393.7 462.1 397 460.6 398.4 C459.1 399.8 453.4 400.6 452 401" fill="none" stroke="#0d0d0d" stroke-width="2.05"/>
<path d="M460.4 390.6 L491.6 381.6" fill="none" stroke="#0d0d0d" stroke-width="2.05"/>
<path d="M461 394.2 L492.8 384.6" fill="none" stroke="#151515" stroke-width="1.6"/>
<path d="M461.6 397.2 L492.8 386.6" fill="none" stroke="#0d0d0d" stroke-width="2.05"/>
<path d="M460.6 392.4 L492.2 383" fill="none" stroke="#333" stroke-width="1.1"/>
<path d="M495.8 333.6 C494.9 335.4 491.7 340 490.4 344.4 C489.1 348.8 488.3 355 488 360 C487.7 365 488 370.6 488.6 374.4 C489.2 378.2 490.9 379 491.6 382.8 C492.3 386.6 492.6 392.2 492.8 397.2 C493 402.2 492.8 410.2 492.8 412.8" fill="none" stroke="#0d0d0d" stroke-width="2.05"/>
<path d="M495.8 333.6 C495.7 336 495.7 342.6 495.4 348 C495.1 353.4 493.9 360.6 494 366 C494.1 371.4 495 377.2 495.8 380.4 C496.6 383.6 498.4 382.4 498.8 385.2 C499.2 388 498.3 392.6 498.2 397.2 C498.1 401.8 498.2 410.2 498.2 412.8" fill="none" stroke="#0d0d0d" stroke-width="2.05"/>
<path d="M494 339.6 C493.6 343 492 353.6 491.8 360 C491.6 366.4 492.6 375 492.8 378" fill="none" stroke="#151515" stroke-width="1.6"/>
<ellipse cx="495.4" cy="413" rx="3" ry="1.2" fill="none" stroke="#151515" stroke-width="1.6"/>
<path d="M515.6 348 C515.8 349.8 517 354.6 516.8 358.8 C516.6 363 514.8 370.8 514.4 373.2" fill="none" stroke="#151515" stroke-width="1.6"/>
<path d="M516.8 358.8 L530 354" fill="none" stroke="#151515" stroke-width="1.6"/>
<path d="M515.6 388.8 L530 384" fill="none" stroke="#151515" stroke-width="1.6"/>
<path d="M515.6 375.6 C515.7 377.8 519 384 516.2 388.8 C513.4 393.6 501.7 401.8 498.8 404.4" fill="none" stroke="#151515" stroke-width="1.6"/>
<path d="M470 424.8 C471 422.9 473.8 420.7 477.2 420 C480.6 419.3 484.4 419.8 486.8 421.2 C489.2 422.6 490.2 425 489.2 427.2 C488.2 429.4 485.4 431.5 482 432 C478.6 432.5 474.8 431 472.4 429.6 C470 428.2 469 426.7 470 424.8Z" fill="none" stroke="#0d0d0d" stroke-width="2.05"/>
<ellipse cx="480.2" cy="424.8" rx="2.4" ry="1.8" fill="none" stroke="#151515" stroke-width="1.6"/>
<ellipse cx="480.2" cy="424.8" rx="1.1" ry="0.8" fill="none" stroke="#333" stroke-width="1.1"/>
<path d="M458 428.4 L477.2 418.8 L488 414 L498.2 412.8" fill="none" stroke="#151515" stroke-width="1.6"/>
<path d="M460.4 426 L467.6 429.6 L477.2 435.6" fill="none" stroke="#151515" stroke-width="1.6"/>
<path d="M484.4 414 L496.4 426 L530 408" fill="none" stroke="#151515" stroke-width="1.6"/>
<path d="M465.2 432 L474.8 436" fill="none" stroke="#151515" stroke-width="1.6"/>
<path d="M463.4 344.8 L542.5 300" fill="none" stroke="#333" stroke-width="1.1"/>
<path d="M572.8 282.6 L603.5 265.3" fill="none" stroke="#333" stroke-width="1.1"/>
<path d="M466 351.2 L545 308.5" fill="none" stroke="#333" stroke-width="1.1"/>
<ellipse cx="410.6" cy="346.6" rx="2.4" ry="3" fill="none" stroke="#151515" stroke-width="1.6" transform="rotate(-15 410.6 346.6)"/>
<ellipse cx="471" cy="444" rx="2" ry="2.6" fill="none" stroke="#151515" stroke-width="1.6" transform="rotate(-15 471 444)"/>
<path d="M448.4 310 C449.2 312.8 451.4 322.7 453 327 C454.6 331.3 457.2 334.5 458 336" fill="none" stroke="#0d0d0d" stroke-width="2.05"/>
<path d="M452 310 C452.7 312.7 455.1 321.7 456.4 326 C457.7 330.3 459.4 334.3 460 336" fill="none" stroke="#151515" stroke-width="1.6"/>
<path d="M421 384 C421.3 387 422.3 396.3 423 402 C423.7 407.7 424.4 413.3 425 418 C425.6 422.7 426.2 428 426.4 430" fill="none" stroke="#0d0d0d" stroke-width="2.05"/>
<path d="M426.4 430 L466 453.6 L500 434" fill="none" stroke="#0d0d0d" stroke-width="2.05"/>
<path d="M426.4 424 L466 447 L466.4 453.6" fill="none" stroke="#151515" stroke-width="1.6"/>
<path d="M466 447 L500 427.6" fill="none" stroke="#151515" stroke-width="1.6"/>
<path d="M450 296 C453.3 295.8 461.7 296.7 470 295 C478.3 293.3 495 287.5 500 286" fill="none" stroke="#333" stroke-width="1.1"/>
<path d="M454 314 C458.3 313 472.3 310.7 480 308 C487.7 305.3 496.7 299.7 500 298" fill="none" stroke="#333" stroke-width="1.1"/>
<ellipse cx="464" cy="333" rx="1.4" ry="1.8" fill="none" stroke="#333" stroke-width="1.1"/>
<path d="M500 432.8 L604.8 372.6 L607.2 369.6 L670 334.6" fill="none" stroke="#0d0d0d" stroke-width="2.05"/>
<path d="M500 421 L600 364" fill="none" stroke="#151515" stroke-width="1.6"/>
<path d="M496 412.4 L550 379 L555 376.4" fill="none" stroke="#151515" stroke-width="1.6"/>
<ellipse cx="510" cy="403.4" rx="3" ry="1.9" fill="none" stroke="#151515" stroke-width="1.6"/>
<ellipse cx="540.4" cy="385.6" rx="3" ry="1.9" fill="none" stroke="#151515" stroke-width="1.6"/>
<ellipse cx="571" cy="367.6" rx="3" ry="1.9" fill="none" stroke="#151515" stroke-width="1.6"/>
<ellipse cx="472" cy="443" rx="2.4" ry="3" fill="none" stroke="#151515" stroke-width="1.6" transform="rotate(-15 472 443)"/>
<path d="M549 312 C549.2 315 549.7 324.7 550 330 C550.3 335.3 551 339.7 551 344 C551 348.3 550.2 350.3 550 356 C549.8 361.7 550 374.3 550 378" fill="none" stroke="#0d0d0d" stroke-width="2.05"/>
<path d="M555 312 C555.2 315 555.7 324.7 556 330 C556.3 335.3 556.7 339.7 557 344 C557.3 348.3 557.8 350.3 558 356 C558.2 361.7 558 374.3 558 378" fill="none" stroke="#0d0d0d" stroke-width="2.05"/>
<path d="M552.4 314 L553.6 376" fill="none" stroke="#151515" stroke-width="1.6"/>
<path d="M496.4 374.8 L550 345 L614 309" fill="none" stroke="#0d0d0d" stroke-width="2.05"/>
<path d="M497 382.4 L550 351 L614 316" fill="none" stroke="#0d0d0d" stroke-width="2.05"/>
<path d="M496.6 378 L550 348 L614 312.4" fill="none" stroke="#151515" stroke-width="1.6"/>
<path d="M496.6 372 L550 342.4 L610 308.4" fill="none" stroke="#333" stroke-width="1.1"/>
<path d="M497.6 408 C499 406.3 502.9 401.2 506 398 C509.1 394.8 512 391.3 516 389 C520 386.7 524.5 386.2 530 384.4 C535.5 382.6 545.8 379.1 549 378" fill="none" stroke="#151515" stroke-width="1.6"/>
<path d="M516 389 C515.9 387.2 515.5 381.8 515.6 378 C515.7 374.2 516.3 368 516.4 366" fill="none" stroke="#151515" stroke-width="1.6"/>
<path d="M558 373 C560 370.8 567.3 363.5 570 360 C572.7 356.5 572 354 574 352 C576 350 578.7 348 582 348 C585.3 348 590.7 350.3 594 352 C597.3 353.7 600.7 357 602 358" fill="none" stroke="#151515" stroke-width="1.6"/>
<path d="M582 348 C581.3 346.7 578.5 343.7 578 340 C577.5 336.3 578.7 331 579 326 C579.3 321 579.8 312.7 580 310" fill="none" stroke="#151515" stroke-width="1.6"/>
<path d="M520 318 C519.5 321 517.6 329.7 517 336 C516.4 342.3 516.5 352.7 516.4 356" fill="none" stroke="#333" stroke-width="1.1"/>
<path d="M578 302 C577.5 304.3 575.7 312 575 316 C574.3 320 574.2 324.3 574 326" fill="none" stroke="#333" stroke-width="1.1"/>
<path d="M498 380 C501 377.8 507.7 371.8 516 367 C524.3 362.2 542.7 353.7 548 351" fill="none" stroke="#151515" stroke-width="1.6"/>
<path d="M585 332 L585 347" fill="none" stroke="#151515" stroke-width="1.6"/>
<ellipse cx="605" cy="327.6" rx="10.4" ry="10" fill="#fbfcfa" stroke="#0d0d0d" stroke-width="2.05"/>
<ellipse cx="606" cy="328" rx="6" ry="5.6" fill="none" stroke="#0a0a0a" stroke-width="2.6"/>
<path d="M610 336.4 C610.7 337.4 614 340.1 614 342.4 C614 344.7 610.7 348.7 610 350" fill="none" stroke="#0d0d0d" stroke-width="2.05"/>
<path d="M598 335 C598.7 336.2 600.3 339.9 602 342.4 C603.7 344.9 606.2 346.7 608 350 C609.8 353.3 612.2 360 613 362" fill="none" stroke="#151515" stroke-width="1.6"/>
<path d="M470 310 C473.3 309.3 481.7 309.3 490 306 C498.3 302.7 515 292.7 520 290" fill="none" stroke="#333" stroke-width="1.1"/>
<ellipse cx="525" cy="298.2" rx="1.6" ry="2" fill="none" stroke="#333" stroke-width="1.1"/>
<path d="M670 335 L718 307.6 L718.4 297 L725 278 L724 272" fill="none" stroke="#0d0d0d" stroke-width="2.05"/>
<path d="M617 358 L640 345 L688 318" fill="none" stroke="#151515" stroke-width="1.6"/>
<path d="M640 338 L690 310 L690.4 317" fill="none" stroke="#151515" stroke-width="1.6"/>
<path d="M690 314 L694 316 L694 320.4" fill="none" stroke="#151515" stroke-width="1.6"/>
<ellipse cx="693" cy="303" rx="5" ry="3.6" fill="none" stroke="#151515" stroke-width="1.6"/>
<ellipse cx="693" cy="303" rx="2.4" ry="1.8" fill="none" stroke="#151515" stroke-width="1.6"/>
<path d="M648.4 324.4 C647.8 322.9 647.2 320.1 647.6 318 C648 315.9 648.9 313.8 651 312 C653.1 310.2 656.3 308.9 660 307 C663.7 305.1 669.7 301.2 673 300.4 C676.3 299.6 678.3 301.1 679.6 302.4 C680.9 303.7 681.1 306.1 680.8 308 C680.5 309.9 680.8 311.5 678 314 C675.2 316.5 667.7 320.7 664 323 C660.3 325.3 658.2 326.9 656 327.6 C653.8 328.3 652.3 327.5 651 327 C649.7 326.5 649 325.9 648.4 324.4Z" fill="#fbfcfa" stroke="#0d0d0d" stroke-width="2.05"/>
<ellipse cx="657" cy="318" rx="3.6" ry="4.4" fill="none" stroke="#151515" stroke-width="1.6" transform="rotate(20 657 318)"/>
<ellipse cx="674.4" cy="308.4" rx="3" ry="3.8" fill="none" stroke="#151515" stroke-width="1.6" transform="rotate(20 674.4 308.4)"/>
<path d="M648 317 L635.6 310" fill="none" stroke="#151515" stroke-width="1.6"/>
<path d="M651 327 L636 319" fill="none" stroke="#151515" stroke-width="1.6"/>
<path d="M635.6 310 C635.2 310.7 632.9 312.5 633 314 C633.1 315.5 635.5 318.2 636 319" fill="none" stroke="#151515" stroke-width="1.6"/>
<path d="M635.6 310 L640 302.4 L672 284" fill="none" stroke="#151515" stroke-width="1.6"/>
<path d="M612.4 362 C612 360.7 610 356.7 610 354 C610 351.3 610.7 348.3 612.4 346 C614.1 343.7 616.7 341.3 620 340 C623.3 338.7 628.8 337.7 632 338 C635.2 338.3 637.7 340.2 639 342 C640.3 343.8 640.5 347 640 349 C639.5 351 638.3 351.8 636 354 C633.7 356.2 629 360 626 362 C623 364 619.3 365.3 618 366" fill="none" stroke="#0d0d0d" stroke-width="2.05"/>
<ellipse cx="624" cy="352" rx="6.4" ry="7.6" fill="none" stroke="#0d0d0d" stroke-width="2.05" transform="rotate(20 624 352)"/>
<ellipse cx="635" cy="344.4" rx="1.6" ry="2" fill="none" stroke="#333" stroke-width="1.1"/>
<path d="M627 329 L625 334" fill="none" stroke="#151515" stroke-width="1.6"/>
<path d="M629.6 330.8 L627.6 335.8" fill="none" stroke="#151515" stroke-width="1.6"/>
<path d="M632.2 332.6 L630.2 337.6" fill="none" stroke="#151515" stroke-width="1.6"/>
<path d="M634.8 334.4 L632.8 339.4" fill="none" stroke="#151515" stroke-width="1.6"/>
<path d="M637.4 336.2 L635.4 341.2" fill="none" stroke="#151515" stroke-width="1.6"/>
<path d="M624 328 C625.3 328.3 629.3 328.2 632 330 C634.7 331.8 638.7 337.5 640 339" fill="none" stroke="#151515" stroke-width="1.6"/>
<path d="M616 312 L672 280" fill="none" stroke="#0d0d0d" stroke-width="2.05"/>
<path d="M618 307 L670 277" fill="none" stroke="#0d0d0d" stroke-width="2.05"/>
<path d="M617 309.6 L671 278.6" fill="none" stroke="#151515" stroke-width="1.6"/>
<path d="M560 339 L594 322" fill="none" stroke="#0d0d0d" stroke-width="2.05"/>
<path d="M560 345 L596 327" fill="none" stroke="#0d0d0d" stroke-width="2.05"/>
<path d="M608 280 C608.2 282.3 608.3 289.3 609 294 C609.7 298.7 611.6 304.3 612.4 308 C613.2 311.7 613.4 314.7 613.6 316" fill="none" stroke="#0d0d0d" stroke-width="2.05"/>
<path d="M615 280 C614.9 282.3 614.1 289.3 614.4 294 C614.7 298.7 616.1 305 617 308 C617.9 311 619.5 311.3 620 312" fill="none" stroke="#0d0d0d" stroke-width="2.05"/>
<ellipse cx="585.6" cy="263" rx="1.6" ry="2" fill="none" stroke="#333" stroke-width="1.1"/>
<ellipse cx="571.6" cy="368" rx="2.4" ry="1.8" fill="none" stroke="#151515" stroke-width="1.6"/>
<path d="M560 350 C562.3 350.7 569.7 352 574 354 C578.3 356 581.2 359.3 586 362 C590.8 364.7 600.2 368.7 603 370" fill="none" stroke="#151515" stroke-width="1.6"/>
<path d="M579 334 C578.8 336 579.2 342.3 578 346 C576.8 349.7 573 354.3 572 356" fill="none" stroke="#151515" stroke-width="1.6"/>
<path d="M560 378 L580 367 L602 378" fill="none" stroke="#151515" stroke-width="1.6"/>
<path d="M560 399 L614 367.6 L617 363.6 L670 335" fill="none" stroke="#0d0d0d" stroke-width="2.05"/>
<path d="M603 370 L612.4 364.4" fill="none" stroke="#151515" stroke-width="1.6"/>
</g>

<g fill="none" stroke="#111" stroke-width="1" stroke-dasharray="26 4 5 4">
<path d="M60 556 L405 352"/>
</g>
<g><circle cx="977.2" cy="193.3" r="5.9" fill="#141414"/><path d="M976.0 189.4 C972.0 190.8 972.0 195.8 976.0 197.20000000000002 C973.9000000000001 195.10000000000002 973.9000000000001 191.5 976.0 189.4Z" fill="#e8e8e8"/><ellipse cx="978.8000000000001" cy="193.5" rx="1.6" ry="2.4" fill="#4a4a4a"/></g>
<g><circle cx="916.1" cy="228" r="5.9" fill="#141414"/><path d="M914.9 224.1 C910.9 225.5 910.9 230.5 914.9 231.9 C912.8000000000001 229.8 912.8000000000001 226.2 914.9 224.1Z" fill="#e8e8e8"/><ellipse cx="917.7" cy="228.2" rx="1.6" ry="2.4" fill="#4a4a4a"/></g>
<g><circle cx="855.7" cy="263.4" r="5.9" fill="#141414"/><path d="M854.5 259.5 C850.5 260.9 850.5 265.9 854.5 267.29999999999995 C852.4000000000001 265.2 852.4000000000001 261.59999999999997 854.5 259.5Z" fill="#e8e8e8"/><ellipse cx="857.3000000000001" cy="263.59999999999997" rx="1.6" ry="2.4" fill="#4a4a4a"/></g>
<g><circle cx="795" cy="298.1" r="5.9" fill="#141414"/><path d="M793.8 294.20000000000005 C789.8 295.6 789.8 300.6 793.8 302.0 C791.7 299.90000000000003 791.7 296.3 793.8 294.20000000000005Z" fill="#e8e8e8"/><ellipse cx="796.6" cy="298.3" rx="1.6" ry="2.4" fill="#4a4a4a"/></g>
<g><circle cx="734.2" cy="333.6" r="5.9" fill="#141414"/><path d="M733.0 329.70000000000005 C729.0 331.1 729.0 336.1 733.0 337.5 C730.9000000000001 335.40000000000003 730.9000000000001 331.8 733.0 329.70000000000005Z" fill="#e8e8e8"/><ellipse cx="735.8000000000001" cy="333.8" rx="1.6" ry="2.4" fill="#4a4a4a"/></g>
<g fill="#fbfcfa" stroke="#0c0c0c" stroke-linecap="round" stroke-width="2.05"><ellipse cx="44.8" cy="563.8" rx="13.0" ry="20.3" transform="rotate(-20 44.8 563.8)"/><path d="M44.6 587.1 L53.2 582.1 L36.3 545.5 L27.6 550.5Z" stroke="none"/><path d="M44.6 587.1 L53.2 582.1 M27.6 550.5 L36.3 545.5" fill="none"/><ellipse cx="36.1" cy="568.8" rx="13.0" ry="20.3" transform="rotate(-20 36.1 568.8)"/><ellipse cx="36.6" cy="568.6" rx="10.7" ry="18.0" transform="rotate(-20 36.6 568.6)" fill="none" stroke-width="1.3"/><path d="M47.1 581.7 L46.5 581.6 L45.9 581.5 L45.3 581.3 L44.7 581.1 L44.1 580.9 L43.4 580.6 L42.8 580.2 L42.2 579.8 L41.6 579.4 L41.0 578.9 L40.4 578.4 L39.8 577.9 L39.2 577.3 L38.7 576.7 L38.1 576.0 L37.6 575.3 L37.1 574.6 L36.6 573.9 L36.1 573.1 L35.6 572.3 L35.2 571.5 L34.8 570.7 L34.4 569.8 L34.0 568.9 L33.7 568.1 L33.4 567.2 L33.1 566.3 L32.9 565.4 L32.6 564.5 L32.5 563.6 L32.3 562.7 L32.2 561.8 L32.1 560.9 L32.0 560.0 L32.0 559.1 L32.0 558.3 L32.0 557.4 L32.1 556.6 L32.2 555.8 L32.3 555.0 L32.5 554.3 L32.6 553.6 L32.9 552.9 L33.1 552.2 L33.4 551.6" fill="none" stroke-width="1.2"/><path d="M29.2 552.3 L36.5 548.1" fill="none" stroke-width="1"/></g>
<ellipse cx="56.8" cy="574.9" rx="2.3" ry="2.7" fill="#fbfcfa" stroke="#111" stroke-width="1.2"/><circle cx="57.0" cy="575.0999999999999" r="1.0" fill="#333"/>
<g fill="#fbfcfa" stroke="#0c0c0c" stroke-linecap="round" stroke-width="2.05"><ellipse cx="105.8" cy="528.8" rx="13.0" ry="20.3" transform="rotate(-20 105.8 528.8)"/><path d="M105.6 552.1 L114.2 547.1 L97.3 510.5 L88.6 515.5Z" stroke="none"/><path d="M105.6 552.1 L114.2 547.1 M88.6 515.5 L97.3 510.5" fill="none"/><ellipse cx="97.1" cy="533.8" rx="13.0" ry="20.3" transform="rotate(-20 97.1 533.8)"/><ellipse cx="97.6" cy="533.6" rx="10.7" ry="18.0" transform="rotate(-20 97.6 533.6)" fill="none" stroke-width="1.3"/><path d="M108.1 546.7 L107.5 546.6 L106.9 546.5 L106.3 546.3 L105.7 546.1 L105.1 545.9 L104.4 545.6 L103.8 545.2 L103.2 544.8 L102.6 544.4 L102.0 543.9 L101.4 543.4 L100.8 542.9 L100.2 542.3 L99.7 541.7 L99.1 541.0 L98.6 540.3 L98.1 539.6 L97.6 538.9 L97.1 538.1 L96.6 537.3 L96.2 536.5 L95.8 535.7 L95.4 534.8 L95.0 533.9 L94.7 533.1 L94.4 532.2 L94.1 531.3 L93.9 530.4 L93.6 529.5 L93.5 528.6 L93.3 527.7 L93.2 526.8 L93.1 525.9 L93.0 525.0 L93.0 524.1 L93.0 523.3 L93.0 522.4 L93.1 521.6 L93.2 520.8 L93.3 520.0 L93.5 519.3 L93.6 518.6 L93.9 517.9 L94.1 517.2 L94.4 516.6" fill="none" stroke-width="1.2"/><path d="M90.2 517.3 L97.5 513.1" fill="none" stroke-width="1"/></g>
<ellipse cx="117.8" cy="539.9" rx="2.3" ry="2.7" fill="#fbfcfa" stroke="#111" stroke-width="1.2"/><circle cx="118.0" cy="540.0999999999999" r="1.0" fill="#333"/>
<g fill="#fbfcfa" stroke="#0c0c0c" stroke-linecap="round" stroke-width="2.05"><ellipse cx="166.8" cy="493.8" rx="13.0" ry="20.3" transform="rotate(-20 166.8 493.8)"/><path d="M166.6 517.1 L175.2 512.1 L158.3 475.5 L149.6 480.5Z" stroke="none"/><path d="M166.6 517.1 L175.2 512.1 M149.6 480.5 L158.3 475.5" fill="none"/><ellipse cx="158.1" cy="498.8" rx="13.0" ry="20.3" transform="rotate(-20 158.1 498.8)"/><ellipse cx="158.6" cy="498.6" rx="10.7" ry="18.0" transform="rotate(-20 158.6 498.6)" fill="none" stroke-width="1.3"/><path d="M169.1 511.7 L168.5 511.6 L167.9 511.5 L167.3 511.3 L166.7 511.1 L166.1 510.9 L165.4 510.6 L164.8 510.2 L164.2 509.8 L163.6 509.4 L163.0 508.9 L162.4 508.4 L161.8 507.9 L161.2 507.3 L160.7 506.7 L160.1 506.0 L159.6 505.3 L159.1 504.6 L158.6 503.9 L158.1 503.1 L157.6 502.3 L157.2 501.5 L156.8 500.7 L156.4 499.8 L156.0 498.9 L155.7 498.1 L155.4 497.2 L155.1 496.3 L154.9 495.4 L154.6 494.5 L154.5 493.6 L154.3 492.7 L154.2 491.8 L154.1 490.9 L154.0 490.0 L154.0 489.1 L154.0 488.3 L154.0 487.4 L154.1 486.6 L154.2 485.8 L154.3 485.0 L154.5 484.3 L154.6 483.6 L154.9 482.9 L155.1 482.2 L155.4 481.6" fill="none" stroke-width="1.2"/><path d="M151.2 482.3 L158.5 478.1" fill="none" stroke-width="1"/></g>
<ellipse cx="178.79999999999998" cy="504.90000000000003" rx="2.3" ry="2.7" fill="#fbfcfa" stroke="#111" stroke-width="1.2"/><circle cx="179.0" cy="505.1" r="1.0" fill="#333"/>
<g fill="#fbfcfa" stroke="#0c0c0c" stroke-linecap="round" stroke-width="2.05"><ellipse cx="227.8" cy="458.8" rx="13.0" ry="20.3" transform="rotate(-20 227.8 458.8)"/><path d="M227.6 482.1 L236.2 477.1 L219.3 440.5 L210.6 445.5Z" stroke="none"/><path d="M227.6 482.1 L236.2 477.1 M210.6 445.5 L219.3 440.5" fill="none"/><ellipse cx="219.1" cy="463.8" rx="13.0" ry="20.3" transform="rotate(-20 219.1 463.8)"/><ellipse cx="219.6" cy="463.6" rx="10.7" ry="18.0" transform="rotate(-20 219.6 463.6)" fill="none" stroke-width="1.3"/><path d="M230.1 476.7 L229.5 476.6 L228.9 476.5 L228.3 476.3 L227.7 476.1 L227.1 475.9 L226.4 475.6 L225.8 475.2 L225.2 474.8 L224.6 474.4 L224.0 473.9 L223.4 473.4 L222.8 472.9 L222.2 472.3 L221.7 471.7 L221.1 471.0 L220.6 470.3 L220.1 469.6 L219.6 468.9 L219.1 468.1 L218.6 467.3 L218.2 466.5 L217.8 465.7 L217.4 464.8 L217.0 463.9 L216.7 463.1 L216.4 462.2 L216.1 461.3 L215.9 460.4 L215.6 459.5 L215.5 458.6 L215.3 457.7 L215.2 456.8 L215.1 455.9 L215.0 455.0 L215.0 454.1 L215.0 453.3 L215.0 452.4 L215.1 451.6 L215.2 450.8 L215.3 450.0 L215.5 449.3 L215.6 448.6 L215.9 447.9 L216.1 447.2 L216.4 446.6" fill="none" stroke-width="1.2"/><path d="M212.2 447.3 L219.5 443.1" fill="none" stroke-width="1"/></g>
<ellipse cx="239.79999999999998" cy="469.90000000000003" rx="2.3" ry="2.7" fill="#fbfcfa" stroke="#111" stroke-width="1.2"/><circle cx="240.0" cy="470.1" r="1.0" fill="#333"/>
<g fill="#fbfcfa" stroke="#0c0c0c" stroke-linecap="round" stroke-width="2.05"><ellipse cx="288.7" cy="423.6" rx="13.0" ry="20.3" transform="rotate(-20 288.7 423.6)"/><path d="M288.5 446.9 L297.1 441.9 L280.2 405.3 L271.5 410.3Z" stroke="none"/><path d="M288.5 446.9 L297.1 441.9 M271.5 410.3 L280.2 405.3" fill="none"/><ellipse cx="280.0" cy="428.6" rx="13.0" ry="20.3" transform="rotate(-20 280.0 428.6)"/><ellipse cx="280.5" cy="428.4" rx="10.7" ry="18.0" transform="rotate(-20 280.5 428.4)" fill="none" stroke-width="1.3"/><path d="M291.0 441.5 L290.4 441.4 L289.8 441.3 L289.2 441.1 L288.6 440.9 L288.0 440.7 L287.3 440.4 L286.7 440.0 L286.1 439.6 L285.5 439.2 L284.9 438.7 L284.3 438.2 L283.7 437.7 L283.1 437.1 L282.6 436.5 L282.0 435.8 L281.5 435.1 L281.0 434.4 L280.5 433.7 L280.0 432.9 L279.5 432.1 L279.1 431.3 L278.7 430.5 L278.3 429.6 L277.9 428.7 L277.6 427.9 L277.3 427.0 L277.0 426.1 L276.8 425.2 L276.5 424.3 L276.4 423.4 L276.2 422.5 L276.1 421.6 L276.0 420.7 L275.9 419.8 L275.9 418.9 L275.9 418.1 L275.9 417.2 L276.0 416.4 L276.1 415.6 L276.2 414.8 L276.4 414.1 L276.5 413.4 L276.8 412.7 L277.0 412.0 L277.3 411.4" fill="none" stroke-width="1.2"/><path d="M273.1 412.1 L280.4 407.9" fill="none" stroke-width="1"/></g>
<circle cx="278.5" cy="429.6" r="2.6" fill="none" stroke="#111" stroke-width="1.2"/>
<g stroke="#111" stroke-width="1" fill="none">
<path d="M37.6 566.3 L49.1 560.1999999999999"/>
<path d="M98.6 531.3 L110.1 525.1999999999999"/>
<path d="M159.6 496.3 L171.1 490.2"/>
<path d="M220.6 461.3 L232.1 455.2"/>
<path d="M281.5 426.1 L293.0 420.0"/>
</g>
<g fill="none" stroke="#111" stroke-width="1" stroke-dasharray="26 4 5 4">
<path d="M716 193 L972 193"/>
<path d="M648 228 L911 228"/>
<path d="M586 263.3 L850 263.3"/>
<path d="M526 298.3 L790 298.3"/>
<path d="M464 333.6 L729 333.6"/>
<path d="M372.4 346 L372.4 748"/>
<path d="M424.3 426 L424.3 777"/>
<path d="M615 362 L615 606"/>
<path d="M666.5 334 L666.5 636"/>
</g>
<g fill="#fbfcfa" stroke="#111" stroke-width="1.4"><path d="M366.4 465 V473.4 A6 3.4 0 0 0 378.4 473.4 V465Z"/><ellipse cx="372.4" cy="465" rx="6" ry="3.4"/><ellipse cx="372.4" cy="465.3" rx="4.2" ry="2.2" stroke-width="0.9"/></g>
<g fill="#fbfcfa" stroke="#111" stroke-width="1.4"><path d="M418.3 492 V500.4 A6 3.4 0 0 0 430.3 500.4 V492Z"/><ellipse cx="424.3" cy="492" rx="6" ry="3.4"/><ellipse cx="424.3" cy="492.3" rx="4.2" ry="2.2" stroke-width="0.9"/></g>
<g transform="translate(614 455)" fill="#fbfcfa" stroke="#0c0c0c" stroke-width="2.0" stroke-linejoin="round" stroke-linecap="round"><path d="M-13.2 1.2 L0.6 -7.2 L12.6 -0.6 L12.6 3 C13.5 12 18 22 24 28.2 C29 33.5 35 36.8 39.6 37.2 L41.2 33 L40.8 31.2 L54 23.4 L67.8 31.2 L67.8 34.8 L62.6 37.8 L62.6 76.5 C62.6 80.5 59 81 56 81 L48.6 81 L38.4 75 L36.6 72.8 L34 74.4 L5.4 58.2 L4.8 54.6 L2.2 52.2 L0 52.8 L-8.4 47.4 L-8.4 6.2 L-12.8 4.4 Z"/><path d="M-13.2 1.2 L-0.6 7.4 L12.6 -0.6 M-0.6 7.4 L-0.6 10.8 M-12.8 4.4 L-0.6 10.8 L4 8.5" fill="none" stroke-width="1.2"/><ellipse cx="0.6" cy="0" rx="4.8" ry="3.3" fill="none" stroke-width="1.2"/><path d="M8.4 -1.5 L9 5 L10.8 5.6 L12 1" fill="none" stroke-width="1.0"/><path d="M40.8 31.2 L54 39 L67.8 31.2 M54 39 L54 42.6 M41.2 34.6 L54 42.6 L62.6 37.8" fill="none" stroke-width="1.2"/><ellipse cx="52.8" cy="30" rx="4.8" ry="3.3" fill="none" stroke-width="1.2"/><path d="M48.6 41.5 L48.6 81 M48.6 41.5 L50.5 44 L53 43" fill="none" stroke-width="1.0"/><path d="M-0.6 6.6 C1 20 8 33 19.2 42.6 C27 46.5 35 45 39.6 37.8" fill="none" stroke-width="1.0"/></g>
<g transform="translate(553.4 490)" fill="#fbfcfa" stroke="#0c0c0c" stroke-width="2.0" stroke-linejoin="round" stroke-linecap="round"><path d="M-13.2 1.2 L0.6 -7.2 L12.6 -0.6 L12.6 3 C13.5 12 18 22 24 28.2 C29 33.5 35 36.8 39.6 37.2 L41.2 33 L40.8 31.2 L54 23.4 L67.8 31.2 L67.8 34.8 L62.6 37.8 L62.6 76.5 C62.6 80.5 59 81 56 81 L48.6 81 L38.4 75 L36.6 72.8 L34 74.4 L5.4 58.2 L4.8 54.6 L2.2 52.2 L0 52.8 L-8.4 47.4 L-8.4 6.2 L-12.8 4.4 Z"/><path d="M-13.2 1.2 L-0.6 7.4 L12.6 -0.6 M-0.6 7.4 L-0.6 10.8 M-12.8 4.4 L-0.6 10.8 L4 8.5" fill="none" stroke-width="1.2"/><ellipse cx="0.6" cy="0" rx="4.8" ry="3.3" fill="none" stroke-width="1.2"/><path d="M8.4 -1.5 L9 5 L10.8 5.6 L12 1" fill="none" stroke-width="1.0"/><path d="M40.8 31.2 L54 39 L67.8 31.2 M54 39 L54 42.6 M41.2 34.6 L54 42.6 L62.6 37.8" fill="none" stroke-width="1.2"/><ellipse cx="52.8" cy="30" rx="4.8" ry="3.3" fill="none" stroke-width="1.2"/><path d="M48.6 41.5 L48.6 81 M48.6 41.5 L50.5 44 L53 43" fill="none" stroke-width="1.0"/><path d="M-0.6 6.6 C1 20 8 33 19.2 42.6 C27 46.5 35 45 39.6 37.8" fill="none" stroke-width="1.0"/></g>
<g transform="translate(492.3 525.4)" fill="#fbfcfa" stroke="#0c0c0c" stroke-width="2.0" stroke-linejoin="round" stroke-linecap="round"><path d="M-13.2 1.2 L0.6 -7.2 L12.6 -0.6 L12.6 3 C13.5 12 18 22 24 28.2 C29 33.5 35 36.8 39.6 37.2 L41.2 33 L40.8 31.2 L54 23.4 L67.8 31.2 L67.8 34.8 L62.6 37.8 L62.6 76.5 C62.6 80.5 59 81 56 81 L48.6 81 L38.4 75 L36.6 72.8 L34 74.4 L5.4 58.2 L4.8 54.6 L2.2 52.2 L0 52.8 L-8.4 47.4 L-8.4 6.2 L-12.8 4.4 Z"/><path d="M-13.2 1.2 L-0.6 7.4 L12.6 -0.6 M-0.6 7.4 L-0.6 10.8 M-12.8 4.4 L-0.6 10.8 L4 8.5" fill="none" stroke-width="1.2"/><ellipse cx="0.6" cy="0" rx="4.8" ry="3.3" fill="none" stroke-width="1.2"/><path d="M8.4 -1.5 L9 5 L10.8 5.6 L12 1" fill="none" stroke-width="1.0"/><path d="M40.8 31.2 L54 39 L67.8 31.2 M54 39 L54 42.6 M41.2 34.6 L54 42.6 L62.6 37.8" fill="none" stroke-width="1.2"/><ellipse cx="52.8" cy="30" rx="4.8" ry="3.3" fill="none" stroke-width="1.2"/><path d="M48.6 41.5 L48.6 81 M48.6 41.5 L50.5 44 L53 43" fill="none" stroke-width="1.0"/><path d="M-0.6 6.6 C1 20 8 33 19.2 42.6 C27 46.5 35 45 39.6 37.8" fill="none" stroke-width="1.0"/></g>
<g transform="translate(431 560.4)" fill="#fbfcfa" stroke="#0c0c0c" stroke-width="2.0" stroke-linejoin="round" stroke-linecap="round"><path d="M-13.2 1.2 L0.6 -7.2 L12.6 -0.6 L12.6 3 C13.5 12 18 22 24 28.2 C29 33.5 35 36.8 39.6 37.2 L41.2 33 L40.8 31.2 L54 23.4 L67.8 31.2 L67.8 34.8 L62.6 37.8 L62.6 76.5 C62.6 80.5 59 81 56 81 L48.6 81 L38.4 75 L36.6 72.8 L34 74.4 L5.4 58.2 L4.8 54.6 L2.2 52.2 L0 52.8 L-8.4 47.4 L-8.4 6.2 L-12.8 4.4 Z"/><path d="M-13.2 1.2 L-0.6 7.4 L12.6 -0.6 M-0.6 7.4 L-0.6 10.8 M-12.8 4.4 L-0.6 10.8 L4 8.5" fill="none" stroke-width="1.2"/><ellipse cx="0.6" cy="0" rx="4.8" ry="3.3" fill="none" stroke-width="1.2"/><path d="M8.4 -1.5 L9 5 L10.8 5.6 L12 1" fill="none" stroke-width="1.0"/><path d="M40.8 31.2 L54 39 L67.8 31.2 M54 39 L54 42.6 M41.2 34.6 L54 42.6 L62.6 37.8" fill="none" stroke-width="1.2"/><ellipse cx="52.8" cy="30" rx="4.8" ry="3.3" fill="none" stroke-width="1.2"/><path d="M48.6 41.5 L48.6 81 M48.6 41.5 L50.5 44 L53 43" fill="none" stroke-width="1.0"/><path d="M-0.6 6.6 C1 20 8 33 19.2 42.6 C27 46.5 35 45 39.6 37.8" fill="none" stroke-width="1.0"/></g>
<g fill="#fbfcfa" stroke="#0c0c0c" stroke-width="2.0" stroke-linejoin="round" stroke-linecap="round"><path d="M356.8 596.9 L372.6 587.3 L383.3 594.1 L383.3 600.9 L383.3 600.9 C384.0 602.9 385.5 609.1 387.3 612.8 C389.1 616.4 391.4 620.1 394.1 622.9 C396.7 625.8 400.3 628.1 403.1 629.7 C405.9 631.3 409.3 632.5 411.0 632.5 C412.7 632.5 413.1 630.2 413.5 629.7 L413.3 626.3 L424.0 619.0 L439.3 626.3 L439.8 630.3 L434.2 633.1 L434.2 670.4 L433.1 673.2 L429.1 675.1 L420.1 676.0 L415.0 674.0 L408.8 670.4 L406.5 669.3 L405.9 667.0 L378.2 653.4 L376.6 650.1 L374.3 647.8 L370.9 648.9 L364.7 645.5 L362.4 641.0 L362.4 604.3 L357.3 601.2Z"/><path d="M356.8 596.9 L369.2 604.3 L383.3 594.1 M369.2 604.3 L369.2 608.2 M357.3 601.2 L369.2 608.2 L372.6 606.6" fill="none" stroke-width="1.2"/><ellipse cx="372.0" cy="594.7" rx="5" ry="3.4" fill="none" stroke-width="1.2"/><path d="M378.8 593.6 L379.6 600.9 L381.6 602.0 L382.8 596.9" fill="none" stroke-width="1"/><path d="M413.3 626.3 L424.0 634.0 L439.3 626.3 M424.0 634.0 L423.7 637.6 M413.8 629.7 L423.7 637.6 L434.2 633.1" fill="none" stroke-width="1.2"/><ellipse cx="423.4" cy="625.2" rx="5" ry="3.4" fill="none" stroke-width="1.2"/><path d="M415.0 634.2 L415.0 674.0" fill="none" stroke-width="1"/><path d="M390.1 638.8 C391.3 639.2 394.7 641.2 397.5 641.6 C400.2 642.0 404.0 641.9 406.5 641.0 C409.0 640.2 411.2 638.3 412.7 636.5 C414.2 634.7 415.1 631.3 415.5 630.3" fill="none" stroke-width="1.5"/><path d="M391.8 645.0 C393.1 645.3 397.1 646.8 399.7 646.9 C402.4 647.0 405.4 646.4 407.6 645.5 C409.9 644.7 412.1 642.7 413.3 641.6 C414.5 640.5 414.7 639.2 415.0 638.8" fill="none" stroke-width="1.2"/><path d="M386.7 635.4 L386.7 649.2 M390.1 638.8 L390.1 651.0 M372.0 647.8 L372.0 642.1 L374.0 641.6 L386.7 649.2 M390.1 651.0 L408.8 662.5 L408.8 669.5 M374.3 647.8 L377.1 646.7 L386.7 652.3" fill="none" stroke-width="1.4"/><path d="M366.9 602.6 C367.7 605.0 369.4 612.8 371.5 617.3 C373.5 621.8 376.8 626.7 379.4 629.7 C381.9 632.7 385.5 634.4 386.7 635.4" fill="none" stroke-width="1"/><path d="M372.0 604.3 C372.8 606.5 374.6 613.2 376.6 617.3 C378.5 621.3 381.7 626.0 383.9 628.6 C386.1 631.2 388.6 632.4 389.5 633.1" fill="none" stroke-width="0.9"/><path d="M364.9 604.3 L365.3 643.3" fill="none" stroke-width="1"/><path d="M366.9 608.2 L369.0 607.7 M368.9 611.4 L370.9 610.8 M370.8 614.6 L372.8 614.0 M372.7 617.7 L374.7 617.2 M374.6 620.9 L376.7 620.3 M376.6 624.1 L378.6 623.5 M378.5 627.2 L380.5 626.7 M380.4 630.4 L382.4 629.8 M382.3 633.6 L384.4 633.0" fill="none" stroke-width="0.9"/></g>
<g transform="translate(614.6 605)" fill="#fbfcfa" stroke="#0c0c0c" stroke-width="1.9" stroke-linejoin="round"><path d="M-8.8 68.3 C-8.8 65 8.8 65 8.8 68.3 L8.8 75.2 L5.8 79.6 C2 80.6 -2 80.6 -5.8 79.6 L-8.8 75.2 Z"/><path d="M-8.8 69.5 C-6 74.5 6 74.5 8.8 69.5 M-8.6 74.5 C-5 78.3 5 78.3 8.6 74.5 M-2.8 80 L-2.3 77" fill="none" stroke-width="1.1"/><ellipse cx="0" cy="67.2" rx="5.6" ry="2.2" stroke-width="1.1"/><path d="M-4.4 24 L-4.4 67.5 C-3 69 3 69 4.4 67.5 L4.4 24 Z"/><path d="M-4.9 3 C-4.9 -1 4.9 -1 4.9 3 L4.9 23.5 C3 25.3 -3 25.3 -4.9 23.5 Z"/><path d="M-3.2 2.6 C-1 4 1 4 3.2 2.6" fill="none" stroke-width="1"/><path d="M-4.2 6.0 C-2 7.5 2 7.5 4.2 6.0" fill="none" stroke-width="1.1"/><path d="M-4.2 9.2 C-2 10.7 2 10.7 4.2 9.2" fill="none" stroke-width="1.1"/><path d="M-4.2 12.4 C-2 13.9 2 13.9 4.2 12.4" fill="none" stroke-width="1.1"/><path d="M-4.2 15.600000000000001 C-2 17.1 2 17.1 4.2 15.600000000000001" fill="none" stroke-width="1.1"/><path d="M-4.2 18.8 C-2 20.3 2 20.3 4.2 18.8" fill="none" stroke-width="1.1"/><path d="M-4.2 22.0 C-2 23.5 2 23.5 4.2 22.0" fill="none" stroke-width="1.1"/></g>
<g transform="translate(554 640)" fill="#fbfcfa" stroke="#0c0c0c" stroke-width="1.9" stroke-linejoin="round"><path d="M-8.8 68.3 C-8.8 65 8.8 65 8.8 68.3 L8.8 75.2 L5.8 79.6 C2 80.6 -2 80.6 -5.8 79.6 L-8.8 75.2 Z"/><path d="M-8.8 69.5 C-6 74.5 6 74.5 8.8 69.5 M-8.6 74.5 C-5 78.3 5 78.3 8.6 74.5 M-2.8 80 L-2.3 77" fill="none" stroke-width="1.1"/><ellipse cx="0" cy="67.2" rx="5.6" ry="2.2" stroke-width="1.1"/><path d="M-4.4 24 L-4.4 67.5 C-3 69 3 69 4.4 67.5 L4.4 24 Z"/><path d="M-4.9 3 C-4.9 -1 4.9 -1 4.9 3 L4.9 23.5 C3 25.3 -3 25.3 -4.9 23.5 Z"/><path d="M-3.2 2.6 C-1 4 1 4 3.2 2.6" fill="none" stroke-width="1"/><path d="M-4.2 6.0 C-2 7.5 2 7.5 4.2 6.0" fill="none" stroke-width="1.1"/><path d="M-4.2 9.2 C-2 10.7 2 10.7 4.2 9.2" fill="none" stroke-width="1.1"/><path d="M-4.2 12.4 C-2 13.9 2 13.9 4.2 12.4" fill="none" stroke-width="1.1"/><path d="M-4.2 15.600000000000001 C-2 17.1 2 17.1 4.2 15.600000000000001" fill="none" stroke-width="1.1"/><path d="M-4.2 18.8 C-2 20.3 2 20.3 4.2 18.8" fill="none" stroke-width="1.1"/><path d="M-4.2 22.0 C-2 23.5 2 23.5 4.2 22.0" fill="none" stroke-width="1.1"/></g>
<g transform="translate(493.4 675)" fill="#fbfcfa" stroke="#0c0c0c" stroke-width="1.9" stroke-linejoin="round"><path d="M-8.8 68.3 C-8.8 65 8.8 65 8.8 68.3 L8.8 75.2 L5.8 79.6 C2 80.6 -2 80.6 -5.8 79.6 L-8.8 75.2 Z"/><path d="M-8.8 69.5 C-6 74.5 6 74.5 8.8 69.5 M-8.6 74.5 C-5 78.3 5 78.3 8.6 74.5 M-2.8 80 L-2.3 77" fill="none" stroke-width="1.1"/><ellipse cx="0" cy="67.2" rx="5.6" ry="2.2" stroke-width="1.1"/><path d="M-4.4 24 L-4.4 67.5 C-3 69 3 69 4.4 67.5 L4.4 24 Z"/><path d="M-4.9 3 C-4.9 -1 4.9 -1 4.9 3 L4.9 23.5 C3 25.3 -3 25.3 -4.9 23.5 Z"/><path d="M-3.2 2.6 C-1 4 1 4 3.2 2.6" fill="none" stroke-width="1"/><path d="M-4.2 6.0 C-2 7.5 2 7.5 4.2 6.0" fill="none" stroke-width="1.1"/><path d="M-4.2 9.2 C-2 10.7 2 10.7 4.2 9.2" fill="none" stroke-width="1.1"/><path d="M-4.2 12.4 C-2 13.9 2 13.9 4.2 12.4" fill="none" stroke-width="1.1"/><path d="M-4.2 15.600000000000001 C-2 17.1 2 17.1 4.2 15.600000000000001" fill="none" stroke-width="1.1"/><path d="M-4.2 18.8 C-2 20.3 2 20.3 4.2 18.8" fill="none" stroke-width="1.1"/><path d="M-4.2 22.0 C-2 23.5 2 23.5 4.2 22.0" fill="none" stroke-width="1.1"/></g>
<g transform="translate(432.6 710.2)" fill="#fbfcfa" stroke="#0c0c0c" stroke-width="1.9" stroke-linejoin="round"><path d="M-8.8 68.3 C-8.8 65 8.8 65 8.8 68.3 L8.8 75.2 L5.8 79.6 C2 80.6 -2 80.6 -5.8 79.6 L-8.8 75.2 Z"/><path d="M-8.8 69.5 C-6 74.5 6 74.5 8.8 69.5 M-8.6 74.5 C-5 78.3 5 78.3 8.6 74.5 M-2.8 80 L-2.3 77" fill="none" stroke-width="1.1"/><ellipse cx="0" cy="67.2" rx="5.6" ry="2.2" stroke-width="1.1"/><path d="M-4.4 24 L-4.4 67.5 C-3 69 3 69 4.4 67.5 L4.4 24 Z"/><path d="M-4.9 3 C-4.9 -1 4.9 -1 4.9 3 L4.9 23.5 C3 25.3 -3 25.3 -4.9 23.5 Z"/><path d="M-3.2 2.6 C-1 4 1 4 3.2 2.6" fill="none" stroke-width="1"/><path d="M-4.2 6.0 C-2 7.5 2 7.5 4.2 6.0" fill="none" stroke-width="1.1"/><path d="M-4.2 9.2 C-2 10.7 2 10.7 4.2 9.2" fill="none" stroke-width="1.1"/><path d="M-4.2 12.4 C-2 13.9 2 13.9 4.2 12.4" fill="none" stroke-width="1.1"/><path d="M-4.2 15.600000000000001 C-2 17.1 2 17.1 4.2 15.600000000000001" fill="none" stroke-width="1.1"/><path d="M-4.2 18.8 C-2 20.3 2 20.3 4.2 18.8" fill="none" stroke-width="1.1"/><path d="M-4.2 22.0 C-2 23.5 2 23.5 4.2 22.0" fill="none" stroke-width="1.1"/></g>
<g transform="translate(371.9 746.2)" fill="#fbfcfa" stroke="#0c0c0c" stroke-width="1.9" stroke-linejoin="round"><path d="M-8.8 68.3 C-8.8 65 8.8 65 8.8 68.3 L8.8 75.2 L5.8 79.6 C2 80.6 -2 80.6 -5.8 79.6 L-8.8 75.2 Z"/><path d="M-8.8 69.5 C-6 74.5 6 74.5 8.8 69.5 M-8.6 74.5 C-5 78.3 5 78.3 8.6 74.5 M-2.8 80 L-2.3 77" fill="none" stroke-width="1.1"/><ellipse cx="0" cy="67.2" rx="5.6" ry="2.2" stroke-width="1.1"/><path d="M-4.4 24 L-4.4 67.5 C-3 69 3 69 4.4 67.5 L4.4 24 Z"/><path d="M-4.9 3 C-4.9 -1 4.9 -1 4.9 3 L4.9 23.5 C3 25.3 -3 25.3 -4.9 23.5 Z"/><path d="M-3.2 2.6 C-1 4 1 4 3.2 2.6" fill="none" stroke-width="1"/><path d="M-4.2 6.0 C-2 7.5 2 7.5 4.2 6.0" fill="none" stroke-width="1.1"/><path d="M-4.2 9.2 C-2 10.7 2 10.7 4.2 9.2" fill="none" stroke-width="1.1"/><path d="M-4.2 12.4 C-2 13.9 2 13.9 4.2 12.4" fill="none" stroke-width="1.1"/><path d="M-4.2 15.600000000000001 C-2 17.1 2 17.1 4.2 15.600000000000001" fill="none" stroke-width="1.1"/><path d="M-4.2 18.8 C-2 20.3 2 20.3 4.2 18.8" fill="none" stroke-width="1.1"/><path d="M-4.2 22.0 C-2 23.5 2 23.5 4.2 22.0" fill="none" stroke-width="1.1"/></g>
<g transform="translate(666.8 635)" fill="#fbfcfa" stroke="#0c0c0c" stroke-width="1.9" stroke-linejoin="round"><path d="M-8.8 68.3 C-8.8 65 8.8 65 8.8 68.3 L8.8 75.2 L5.8 79.6 C2 80.6 -2 80.6 -5.8 79.6 L-8.8 75.2 Z"/><path d="M-8.8 69.5 C-6 74.5 6 74.5 8.8 69.5 M-8.6 74.5 C-5 78.3 5 78.3 8.6 74.5 M-2.8 80 L-2.3 77" fill="none" stroke-width="1.1"/><ellipse cx="0" cy="67.2" rx="5.6" ry="2.2" stroke-width="1.1"/><path d="M-4.4 24 L-4.4 67.5 C-3 69 3 69 4.4 67.5 L4.4 24 Z"/><path d="M-4.9 3 C-4.9 -1 4.9 -1 4.9 3 L4.9 23.5 C3 25.3 -3 25.3 -4.9 23.5 Z"/><path d="M-3.2 2.6 C-1 4 1 4 3.2 2.6" fill="none" stroke-width="1"/><path d="M-4.2 6.0 C-2 7.5 2 7.5 4.2 6.0" fill="none" stroke-width="1.1"/><path d="M-4.2 9.2 C-2 10.7 2 10.7 4.2 9.2" fill="none" stroke-width="1.1"/><path d="M-4.2 12.4 C-2 13.9 2 13.9 4.2 12.4" fill="none" stroke-width="1.1"/><path d="M-4.2 15.600000000000001 C-2 17.1 2 17.1 4.2 15.600000000000001" fill="none" stroke-width="1.1"/><path d="M-4.2 18.8 C-2 20.3 2 20.3 4.2 18.8" fill="none" stroke-width="1.1"/><path d="M-4.2 22.0 C-2 23.5 2 23.5 4.2 22.0" fill="none" stroke-width="1.1"/></g>
<g transform="translate(605.6 670.3)" fill="#fbfcfa" stroke="#0c0c0c" stroke-width="1.9" stroke-linejoin="round"><path d="M-8.8 68.3 C-8.8 65 8.8 65 8.8 68.3 L8.8 75.2 L5.8 79.6 C2 80.6 -2 80.6 -5.8 79.6 L-8.8 75.2 Z"/><path d="M-8.8 69.5 C-6 74.5 6 74.5 8.8 69.5 M-8.6 74.5 C-5 78.3 5 78.3 8.6 74.5 M-2.8 80 L-2.3 77" fill="none" stroke-width="1.1"/><ellipse cx="0" cy="67.2" rx="5.6" ry="2.2" stroke-width="1.1"/><path d="M-4.4 24 L-4.4 67.5 C-3 69 3 69 4.4 67.5 L4.4 24 Z"/><path d="M-4.9 3 C-4.9 -1 4.9 -1 4.9 3 L4.9 23.5 C3 25.3 -3 25.3 -4.9 23.5 Z"/><path d="M-3.2 2.6 C-1 4 1 4 3.2 2.6" fill="none" stroke-width="1"/><path d="M-4.2 6.0 C-2 7.5 2 7.5 4.2 6.0" fill="none" stroke-width="1.1"/><path d="M-4.2 9.2 C-2 10.7 2 10.7 4.2 9.2" fill="none" stroke-width="1.1"/><path d="M-4.2 12.4 C-2 13.9 2 13.9 4.2 12.4" fill="none" stroke-width="1.1"/><path d="M-4.2 15.600000000000001 C-2 17.1 2 17.1 4.2 15.600000000000001" fill="none" stroke-width="1.1"/><path d="M-4.2 18.8 C-2 20.3 2 20.3 4.2 18.8" fill="none" stroke-width="1.1"/><path d="M-4.2 22.0 C-2 23.5 2 23.5 4.2 22.0" fill="none" stroke-width="1.1"/></g>
<g transform="translate(545 705.8)" fill="#fbfcfa" stroke="#0c0c0c" stroke-width="1.9" stroke-linejoin="round"><path d="M-8.8 68.3 C-8.8 65 8.8 65 8.8 68.3 L8.8 75.2 L5.8 79.6 C2 80.6 -2 80.6 -5.8 79.6 L-8.8 75.2 Z"/><path d="M-8.8 69.5 C-6 74.5 6 74.5 8.8 69.5 M-8.6 74.5 C-5 78.3 5 78.3 8.6 74.5 M-2.8 80 L-2.3 77" fill="none" stroke-width="1.1"/><ellipse cx="0" cy="67.2" rx="5.6" ry="2.2" stroke-width="1.1"/><path d="M-4.4 24 L-4.4 67.5 C-3 69 3 69 4.4 67.5 L4.4 24 Z"/><path d="M-4.9 3 C-4.9 -1 4.9 -1 4.9 3 L4.9 23.5 C3 25.3 -3 25.3 -4.9 23.5 Z"/><path d="M-3.2 2.6 C-1 4 1 4 3.2 2.6" fill="none" stroke-width="1"/><path d="M-4.2 6.0 C-2 7.5 2 7.5 4.2 6.0" fill="none" stroke-width="1.1"/><path d="M-4.2 9.2 C-2 10.7 2 10.7 4.2 9.2" fill="none" stroke-width="1.1"/><path d="M-4.2 12.4 C-2 13.9 2 13.9 4.2 12.4" fill="none" stroke-width="1.1"/><path d="M-4.2 15.600000000000001 C-2 17.1 2 17.1 4.2 15.600000000000001" fill="none" stroke-width="1.1"/><path d="M-4.2 18.8 C-2 20.3 2 20.3 4.2 18.8" fill="none" stroke-width="1.1"/><path d="M-4.2 22.0 C-2 23.5 2 23.5 4.2 22.0" fill="none" stroke-width="1.1"/></g>
<g transform="translate(484.4 740.5)" fill="#fbfcfa" stroke="#0c0c0c" stroke-width="1.9" stroke-linejoin="round"><path d="M-8.8 68.3 C-8.8 65 8.8 65 8.8 68.3 L8.8 75.2 L5.8 79.6 C2 80.6 -2 80.6 -5.8 79.6 L-8.8 75.2 Z"/><path d="M-8.8 69.5 C-6 74.5 6 74.5 8.8 69.5 M-8.6 74.5 C-5 78.3 5 78.3 8.6 74.5 M-2.8 80 L-2.3 77" fill="none" stroke-width="1.1"/><ellipse cx="0" cy="67.2" rx="5.6" ry="2.2" stroke-width="1.1"/><path d="M-4.4 24 L-4.4 67.5 C-3 69 3 69 4.4 67.5 L4.4 24 Z"/><path d="M-4.9 3 C-4.9 -1 4.9 -1 4.9 3 L4.9 23.5 C3 25.3 -3 25.3 -4.9 23.5 Z"/><path d="M-3.2 2.6 C-1 4 1 4 3.2 2.6" fill="none" stroke-width="1"/><path d="M-4.2 6.0 C-2 7.5 2 7.5 4.2 6.0" fill="none" stroke-width="1.1"/><path d="M-4.2 9.2 C-2 10.7 2 10.7 4.2 9.2" fill="none" stroke-width="1.1"/><path d="M-4.2 12.4 C-2 13.9 2 13.9 4.2 12.4" fill="none" stroke-width="1.1"/><path d="M-4.2 15.600000000000001 C-2 17.1 2 17.1 4.2 15.600000000000001" fill="none" stroke-width="1.1"/><path d="M-4.2 18.8 C-2 20.3 2 20.3 4.2 18.8" fill="none" stroke-width="1.1"/><path d="M-4.2 22.0 C-2 23.5 2 23.5 4.2 22.0" fill="none" stroke-width="1.1"/></g>
<g transform="translate(423.5 775.6)" fill="#fbfcfa" stroke="#0c0c0c" stroke-width="1.9" stroke-linejoin="round"><path d="M-8.8 68.3 C-8.8 65 8.8 65 8.8 68.3 L8.8 75.2 L5.8 79.6 C2 80.6 -2 80.6 -5.8 79.6 L-8.8 75.2 Z"/><path d="M-8.8 69.5 C-6 74.5 6 74.5 8.8 69.5 M-8.6 74.5 C-5 78.3 5 78.3 8.6 74.5 M-2.8 80 L-2.3 77" fill="none" stroke-width="1.1"/><ellipse cx="0" cy="67.2" rx="5.6" ry="2.2" stroke-width="1.1"/><path d="M-4.4 24 L-4.4 67.5 C-3 69 3 69 4.4 67.5 L4.4 24 Z"/><path d="M-4.9 3 C-4.9 -1 4.9 -1 4.9 3 L4.9 23.5 C3 25.3 -3 25.3 -4.9 23.5 Z"/><path d="M-3.2 2.6 C-1 4 1 4 3.2 2.6" fill="none" stroke-width="1"/><path d="M-4.2 6.0 C-2 7.5 2 7.5 4.2 6.0" fill="none" stroke-width="1.1"/><path d="M-4.2 9.2 C-2 10.7 2 10.7 4.2 9.2" fill="none" stroke-width="1.1"/><path d="M-4.2 12.4 C-2 13.9 2 13.9 4.2 12.4" fill="none" stroke-width="1.1"/><path d="M-4.2 15.600000000000001 C-2 17.1 2 17.1 4.2 15.600000000000001" fill="none" stroke-width="1.1"/><path d="M-4.2 18.8 C-2 20.3 2 20.3 4.2 18.8" fill="none" stroke-width="1.1"/><path d="M-4.2 22.0 C-2 23.5 2 23.5 4.2 22.0" fill="none" stroke-width="1.1"/></g>
<g stroke="#111" stroke-width="1" fill="none">
<path d="M766.8 99.8 L697.2 139.4"/>
<path d="M774 358.4 L738 338"/>
<path d="M715.8 524.6 L677.4 502.4"/>
<path d="M728.6 697.8 L672.2 665.2"/>
<path d="M317.8 649 L361.4 624.2"/>
<path d="M313.4 499.4 L366.2 470.2"/>
<path d="M176.4 422 L211.6 442"/>
<path d="M250.8 390.8 L275.6 404.9"/>
</g>
<g font-family="Liberation Sans, sans-serif" font-size="17.4" fill="#111" text-anchor="middle">
<text x="776" y="100.7">1</text>
<text x="783" y="369.9">2</text>
<text x="724.8" y="536.7">3</text>
<text x="737.3" y="709.1">4</text>
<text x="308.7" y="660.3">5</text>
<text x="304.1" y="511.7">6</text>
<text x="167.6" y="422.9">7</text>
<text x="241.6" y="392.1">8</text>
</g>

<g fill="none" stroke="#8e8e8e" stroke-width="1.45" stroke-linejoin="round" style="mix-blend-mode:multiply">
<path d="M174 283.3 L349 283.3 L376 266.2 L404 278.7 L417 271.2 L410.7 241.4 L454.3 222.7 L470 250.4 L488 250.2 L493.3 214.2 L542.7 214.2 L544 250.9 L563.5 251.7 L581.7 224.9 L624.6 242.6 L618.1 271.2 L629.8 280.3 L659.7 268.1 L683.1 283.3 H887 C906 283.3 917 292 913 304 L826 543.6 C820 560 808 571.2 790 571.2 L683.1 571.2 L659.7 586.4 L629.8 574.2 L618.1 583.3 L624.6 611.9 L581.7 629.6 L563.5 602.8 L544 603.6 L542.7 640.3 L493.3 640.3 L488 604.3 L470 604.1 L454.3 631.8 L410.7 613.1 L417 583.3 L404 575.8 L376 588.3 L349 571.2 H70 C58 571.2 48.5 560 51.4 546.4 L137 310 C143 292 155 283.3 174 283.3 Z"/>
<ellipse cx="234.3" cy="427" rx="106" ry="68.7" transform="rotate(-32.5 234.3 427)"/>
<ellipse cx="234.4" cy="426.8" rx="40.3" ry="22.3" transform="rotate(-43 234.4 426.8)"/>
<path d="M375 351 H452 C484 351 503 368 500.6 392 C497 427 468 457.4 425 457.4 H396.6 L379.7 503.6 H318.6 Z"/>
<path d="M421.4 390.4 H450 C462 390.4 466 397 463 404 C460 412 452 417.4 442 417.4 H410.6 Z"/>
<path d="M536.5 351 H644 L627 396 H582.5 L576.5 408 H619.4 L605 445 H564.8 L558.3 459.3 H606.4 L589.5 503.5 H480.3 Z"/>
<path d="M659 351.4 H728.5 L732 380 L757.2 351.4 H825 L752 420 L777 503.6 H706.8 L701 466 L666 503.6 H597 L682 421.6 Z"/>
</g>

<g fill="#666"><rect x="983.5" y="7.5" width="2.2" height="2.2" rx="1"/><rect x="986.5" y="5.8" width="2.2" height="1.6"/><rect x="992" y="7.7" width="8" height="2" rx="1"/></g>
</svg>
</body></html>
